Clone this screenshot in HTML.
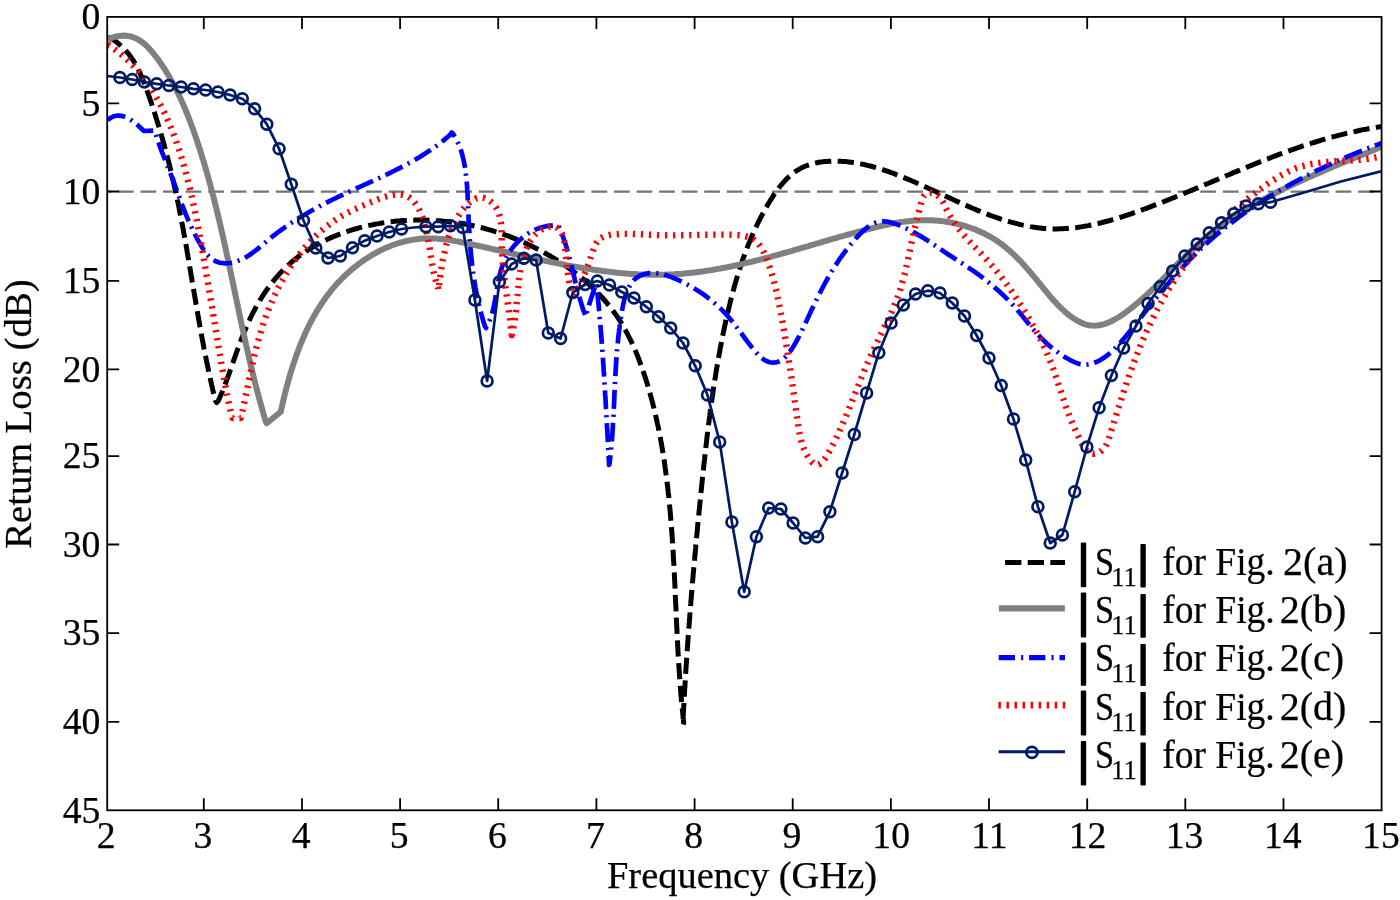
<!DOCTYPE html>
<html lang="en"><head><meta charset="utf-8"><title>Return Loss vs Frequency</title>
<style>html,body{margin:0;padding:0;background:#fff}body{width:1400px;height:900px;overflow:hidden}svg{display:block}text{font-family:"Liberation Serif", serif;fill:#000;stroke:#000;stroke-width:0.25px}</style></head><body>
<svg width="1400" height="900" viewBox="0 0 1400 900">
<rect width="1400" height="900" fill="#fff"/>
<defs><clipPath id="c"><rect x="107.2" y="16.9" width="1274.4" height="793.4"/></clipPath></defs>
<g clip-path="url(#c)" fill="none" stroke-linejoin="round">
<path d="M107.2 191.6 H1381.6" stroke="#747474" stroke-width="2.4" stroke-dasharray="15.8 6.75" stroke-dashoffset="11.85"/>
<path d="M107.5 38.0 L109.9 37.8 L111.7 38.9 L113.4 40.0 L115.1 41.1 L116.7 42.3 L118.3 43.5 L119.8 44.8 L121.3 46.1 L122.7 47.4 L124.1 48.8 L125.4 50.2 L126.7 51.7 L128.0 53.1 L129.2 54.7 L130.3 56.2 L131.4 57.8 L132.5 59.4 L133.6 61.0 L134.6 62.7 L135.6 64.4 L136.5 66.1 L137.4 67.8 L138.3 69.6 L139.2 71.3 L140.0 73.1 L140.8 74.9 L141.6 76.8 L142.4 78.6 L143.2 80.4 L143.9 82.3 L144.6 84.2 L145.4 86.0 L146.1 87.9 L146.7 89.8 L147.4 91.7 L148.1 93.6 L148.8 95.5 L149.4 97.4 L150.1 99.3 L150.7 101.2 L151.4 103.2 L152.0 105.1 L152.6 107.0 L153.3 108.9 L153.9 110.8 L154.5 112.7 L155.1 114.6 L155.7 116.6 L156.3 118.5 L156.9 120.4 L157.5 122.3 L158.1 124.2 L158.7 126.2 L159.3 128.1 L159.9 130.0 L160.4 132.0 L161.0 133.9 L161.6 135.8 L162.1 137.8 L162.7 139.7 L163.2 141.6 L163.8 143.6 L164.3 145.5 L164.8 147.4 L165.4 149.4 L165.9 151.3 L166.4 153.3 L166.9 155.2 L167.4 157.2 L167.9 159.1 L168.4 161.0 L168.9 163.0 L169.4 164.9 L169.9 166.9 L170.4 168.8 L170.8 170.8 L171.3 172.7 L171.8 174.7 L172.2 176.6 L172.7 178.6 L173.2 180.6 L173.6 182.5 L174.0 184.5 L174.5 186.4 L174.9 188.4 L175.4 190.3 L175.8 192.3 L176.2 194.2 L176.6 196.2 L177.0 198.2 L177.4 200.1 L177.9 202.1 L178.3 204.1 L178.7 206.0 L179.1 208.0 L179.4 209.9 L179.8 211.9 L180.2 213.9 L180.6 215.8 L181.0 217.8 L181.4 219.8 L181.7 221.7 L182.1 223.7 L182.5 225.7 L182.9 227.6 L183.2 229.6 L183.6 231.6 L183.9 233.5 L184.3 235.5 L184.7 237.5 L185.0 239.4 L185.4 241.4 L185.7 243.4 L186.1 245.4 L186.4 247.3 L186.8 249.3 L187.1 251.3 L187.4 253.2 L187.8 255.2 L188.1 257.2 L188.5 259.2 L188.8 261.1 L189.1 263.1 L189.5 265.1 L189.8 267.0 L190.1 269.0 L190.5 271.0 L190.8 273.0 L191.1 274.9 L191.5 276.9 L191.8 278.9 L192.1 280.9 L192.5 282.8 L192.8 284.8 L193.1 286.8 L193.5 288.7 L193.8 290.7 L194.1 292.7 L194.5 294.7 L194.8 296.6 L195.1 298.6 L195.5 300.6 L195.8 302.6 L196.1 304.5 L196.5 306.5 L196.8 308.5 L197.2 310.4 L197.5 312.4 L197.8 314.4 L198.2 316.4 L198.5 318.3 L198.9 320.3 L199.2 322.3 L199.6 324.2 L199.9 326.2 L200.3 328.2 L200.6 330.2 L201.0 332.1 L201.3 334.1 L201.7 336.1 L202.1 338.0 L202.4 340.0 L202.8 342.0 L203.2 343.9 L203.6 345.9 L203.9 347.9 L204.3 349.8 L204.7 351.8 L205.1 353.8 L205.5 355.7 L205.9 357.7 L206.3 359.7 L206.6 361.6 L207.1 363.6 L207.5 365.6 L207.9 367.5 L208.3 369.5 L208.7 371.4 L209.1 373.4 L209.5 375.4 L210.0 377.3 L210.4 379.3 L210.8 381.2 L211.3 383.2 L211.7 385.1 L212.2 387.1 L212.6 389.1 L213.1 391.0 L213.5 393.0 L214.0 394.9 L214.5 396.9 L215.0 398.8 L215.5 400.8 L216.7 402.5 L218.3 400.8 L219.1 399.0 L219.9 397.3 L220.7 395.5 L221.4 393.7 L222.2 391.9 L222.9 390.1 L223.6 388.3 L224.3 386.4 L225.1 384.6 L225.8 382.7 L226.4 380.9 L227.1 379.0 L227.8 377.2 L228.5 375.3 L229.2 373.4 L229.8 371.5 L230.5 369.6 L231.2 367.7 L231.8 365.8 L232.5 363.9 L233.2 362.0 L233.8 360.1 L234.5 358.2 L235.2 356.3 L235.8 354.4 L236.5 352.5 L237.2 350.6 L237.9 348.7 L238.6 346.8 L239.3 344.9 L240.0 343.0 L240.7 341.1 L241.4 339.2 L242.1 337.3 L242.9 335.4 L243.6 333.5 L244.4 331.6 L245.2 329.7 L246.0 327.9 L246.8 326.0 L247.6 324.2 L248.4 322.3 L249.3 320.5 L250.1 318.7 L251.0 316.8 L251.9 315.0 L252.8 313.2 L253.7 311.4 L254.7 309.7 L255.6 307.9 L256.6 306.1 L257.6 304.4 L258.6 302.7 L259.6 300.9 L260.6 299.2 L261.7 297.5 L262.7 295.9 L263.8 294.2 L264.9 292.5 L266.0 290.9 L267.2 289.3 L268.3 287.7 L269.5 286.1 L270.7 284.5 L271.9 282.9 L273.1 281.4 L274.3 279.8 L275.6 278.3 L276.9 276.8 L278.2 275.4 L279.5 273.9 L280.8 272.5 L282.2 271.1 L283.5 269.7 L284.9 268.3 L286.3 266.9 L287.7 265.6 L289.2 264.3 L290.6 263.0 L292.1 261.7 L293.6 260.4 L295.1 259.2 L296.7 258.0 L298.2 256.8 L299.8 255.6 L301.3 254.5 L302.9 253.3 L304.6 252.2 L306.2 251.1 L307.8 250.1 L309.5 249.0 L311.2 248.0 L312.9 247.0 L314.6 246.0 L316.3 245.0 L318.0 244.0 L319.7 243.1 L321.5 242.2 L323.3 241.3 L325.1 240.4 L326.9 239.6 L328.7 238.7 L330.5 237.9 L332.3 237.1 L334.1 236.3 L336.0 235.6 L337.9 234.8 L339.7 234.1 L341.6 233.4 L343.5 232.7 L345.4 232.1 L347.3 231.4 L349.2 230.8 L351.1 230.2 L353.1 229.6 L355.0 229.0 L357.0 228.5 L358.9 227.9 L360.9 227.4 L362.8 226.9 L364.8 226.4 L366.8 226.0 L368.8 225.5 L370.8 225.1 L372.8 224.7 L374.8 224.3 L376.8 223.9 L378.8 223.6 L380.8 223.2 L382.8 222.9 L384.9 222.6 L386.9 222.3 L388.9 222.0 L390.9 221.8 L393.0 221.6 L395.0 221.3 L397.1 221.1 L399.1 221.0 L401.1 220.8 L403.2 220.6 L405.2 220.5 L407.3 220.4 L409.3 220.3 L411.3 220.2 L413.4 220.2 L415.4 220.1 L417.5 220.1 L419.5 220.1 L421.5 220.1 L423.6 220.1 L425.6 220.1 L427.6 220.2 L429.6 220.2 L431.7 220.3 L433.7 220.4 L435.7 220.5 L437.7 220.7 L439.7 220.8 L441.7 221.0 L443.7 221.2 L445.7 221.4 L447.7 221.6 L449.7 221.8 L451.7 222.0 L453.7 222.3 L455.6 222.6 L457.6 222.9 L459.6 223.2 L461.5 223.5 L463.5 223.8 L465.5 224.2 L467.4 224.6 L469.4 224.9 L471.3 225.3 L473.2 225.7 L475.2 226.2 L477.1 226.6 L479.0 227.1 L481.0 227.5 L482.9 228.0 L484.8 228.5 L486.7 229.1 L488.6 229.6 L490.5 230.1 L492.4 230.7 L494.3 231.3 L496.2 231.9 L498.1 232.5 L500.0 233.1 L501.8 233.7 L503.7 234.4 L505.6 235.1 L507.4 235.7 L509.3 236.4 L511.1 237.1 L513.0 237.9 L514.8 238.6 L516.7 239.4 L518.5 240.1 L520.3 240.9 L522.1 241.7 L524.0 242.5 L525.8 243.3 L527.6 244.2 L529.4 245.0 L531.2 245.9 L533.0 246.8 L534.8 247.7 L536.6 248.6 L538.4 249.5 L540.1 250.4 L541.9 251.4 L543.7 252.3 L545.4 253.3 L547.2 254.3 L548.9 255.3 L550.7 256.3 L552.4 257.3 L554.1 258.4 L555.8 259.4 L557.5 260.5 L559.2 261.6 L560.9 262.7 L562.6 263.8 L564.3 264.9 L565.9 266.1 L567.6 267.2 L569.2 268.4 L570.9 269.6 L572.5 270.8 L574.1 272.0 L575.7 273.2 L577.3 274.4 L578.8 275.7 L580.4 276.9 L582.0 278.2 L583.5 279.5 L585.0 280.8 L586.5 282.1 L588.0 283.5 L589.5 284.8 L591.0 286.2 L592.4 287.6 L593.9 288.9 L595.3 290.3 L596.7 291.8 L598.1 293.2 L599.5 294.6 L600.8 296.1 L602.2 297.5 L603.5 299.0 L604.8 300.5 L606.1 302.0 L607.4 303.6 L608.6 305.1 L609.9 306.6 L611.1 308.2 L612.3 309.8 L613.5 311.4 L614.6 313.0 L615.8 314.6 L616.9 316.2 L618.0 317.9 L619.1 319.5 L620.1 321.2 L621.2 322.9 L622.2 324.6 L623.2 326.3 L624.2 328.0 L625.2 329.7 L626.1 331.5 L627.1 333.2 L628.0 335.0 L628.9 336.8 L629.8 338.5 L630.7 340.3 L631.5 342.1 L632.4 343.9 L633.2 345.7 L634.0 347.6 L634.8 349.4 L635.6 351.2 L636.4 353.1 L637.1 354.9 L637.9 356.8 L638.6 358.7 L639.3 360.5 L640.0 362.4 L640.7 364.3 L641.4 366.2 L642.1 368.1 L642.8 370.0 L643.4 371.9 L644.0 373.8 L644.7 375.7 L645.3 377.6 L645.9 379.5 L646.5 381.4 L647.1 383.3 L647.7 385.3 L648.2 387.2 L648.8 389.1 L649.3 391.0 L649.9 393.0 L650.4 394.9 L651.0 396.8 L651.5 398.8 L652.0 400.7 L652.5 402.6 L653.0 404.6 L653.5 406.5 L654.0 408.5 L654.4 410.4 L654.9 412.4 L655.4 414.3 L655.8 416.2 L656.3 418.2 L656.7 420.1 L657.1 422.1 L657.5 424.0 L658.0 426.0 L658.4 428.0 L658.8 429.9 L659.1 431.9 L659.5 433.8 L659.9 435.8 L660.3 437.8 L660.7 439.7 L661.0 441.7 L661.4 443.6 L661.7 445.6 L662.1 447.6 L662.4 449.6 L662.7 451.5 L663.0 453.5 L663.4 455.5 L663.7 457.4 L664.0 459.4 L664.3 461.4 L664.6 463.4 L664.9 465.3 L665.1 467.3 L665.4 469.3 L665.7 471.3 L665.9 473.3 L666.2 475.2 L666.5 477.2 L666.7 479.2 L667.0 481.2 L667.2 483.2 L667.4 485.2 L667.7 487.2 L667.9 489.1 L668.1 491.1 L668.3 493.1 L668.6 495.1 L668.8 497.1 L669.0 499.1 L669.2 501.1 L669.4 503.1 L669.6 505.1 L669.7 507.1 L669.9 509.1 L670.1 511.1 L670.3 513.1 L670.5 515.1 L670.6 517.1 L670.8 519.1 L671.0 521.1 L671.1 523.1 L671.3 525.1 L671.4 527.1 L671.6 529.1 L671.7 531.1 L671.9 533.1 L672.0 535.1 L672.2 537.1 L672.3 539.1 L672.4 541.1 L672.6 543.1 L672.7 545.1 L672.8 547.1 L672.9 549.1 L673.1 551.1 L673.2 553.1 L673.3 555.1 L673.4 557.1 L673.5 559.1 L673.6 561.1 L673.8 563.1 L673.9 565.1 L674.0 567.1 L674.1 569.1 L674.2 571.2 L674.3 573.2 L674.4 575.2 L674.5 577.2 L674.6 579.2 L674.7 581.2 L674.8 583.2 L674.9 585.2 L675.0 587.2 L675.1 589.2 L675.2 591.2 L675.2 593.2 L675.3 595.2 L675.4 597.2 L675.5 599.3 L675.6 601.3 L675.7 603.3 L675.8 605.3 L675.9 607.3 L676.0 609.3 L676.1 611.3 L676.2 613.3 L676.2 615.3 L676.3 617.3 L676.4 619.3 L676.5 621.3 L676.6 623.3 L676.7 625.3 L676.8 627.3 L676.9 629.3 L677.0 631.3 L677.1 633.3 L677.2 635.3 L677.3 637.3 L677.4 639.4 L677.5 641.4 L677.6 643.4 L677.7 645.4 L677.8 647.4 L677.9 649.4 L678.0 651.3 L678.1 653.3 L678.2 655.3 L678.4 657.3 L678.5 659.3 L678.6 661.3 L678.7 663.3 L678.8 665.3 L679.0 667.3 L679.1 669.3 L679.2 671.3 L679.4 673.3 L679.5 675.3 L679.6 677.3 L679.8 679.3 L679.9 681.2 L680.1 683.2 L680.2 685.2 L680.4 687.2 L680.5 689.2 L680.7 691.2 L680.8 693.2 L681.0 695.1 L681.2 697.1 L681.3 699.1 L681.5 701.1 L681.7 703.1 L681.9 705.0 L682.1 707.0 L682.3 709.0 L682.5 711.0 L682.7 712.9 L682.9 714.9 L683.1 716.9 L683.3 718.9 L683.5 720.8 L683.7 722.8 L683.0 725.0 L682.9 723.0 L683.0 721.0 L683.1 719.0 L683.2 717.0 L683.3 715.0 L683.4 713.0 L683.5 711.0 L683.6 709.0 L683.7 707.0 L683.9 705.0 L684.0 703.0 L684.1 701.0 L684.2 699.0 L684.3 697.0 L684.4 695.0 L684.5 693.0 L684.6 691.0 L684.7 689.0 L684.9 687.0 L685.0 685.0 L685.1 683.0 L685.2 681.0 L685.3 679.0 L685.5 677.1 L685.6 675.1 L685.7 673.1 L685.8 671.1 L686.0 669.1 L686.1 667.1 L686.2 665.1 L686.4 663.1 L686.5 661.1 L686.6 659.1 L686.8 657.1 L686.9 655.1 L687.0 653.1 L687.2 651.1 L687.3 649.1 L687.5 647.1 L687.6 645.1 L687.7 643.1 L687.9 641.1 L688.0 639.1 L688.2 637.1 L688.3 635.1 L688.5 633.1 L688.6 631.2 L688.8 629.2 L688.9 627.2 L689.1 625.2 L689.2 623.2 L689.4 621.2 L689.5 619.2 L689.7 617.2 L689.8 615.2 L690.0 613.2 L690.1 611.2 L690.3 609.2 L690.5 607.2 L690.6 605.2 L690.8 603.2 L690.9 601.2 L691.1 599.2 L691.3 597.3 L691.4 595.3 L691.6 593.3 L691.8 591.3 L691.9 589.3 L692.1 587.3 L692.3 585.3 L692.4 583.3 L692.6 581.3 L692.8 579.3 L693.0 577.3 L693.1 575.3 L693.3 573.3 L693.5 571.3 L693.7 569.3 L693.8 567.4 L694.0 565.4 L694.2 563.4 L694.4 561.4 L694.6 559.4 L694.7 557.4 L694.9 555.4 L695.1 553.4 L695.3 551.4 L695.5 549.4 L695.7 547.4 L695.8 545.4 L696.0 543.4 L696.2 541.4 L696.4 539.5 L696.6 537.5 L696.8 535.5 L697.0 533.5 L697.2 531.5 L697.4 529.5 L697.5 527.5 L697.7 525.5 L697.9 523.5 L698.1 521.5 L698.3 519.5 L698.5 517.5 L698.7 515.6 L698.9 513.6 L699.1 511.6 L699.3 509.6 L699.5 507.6 L699.7 505.6 L699.9 503.6 L700.1 501.6 L700.3 499.6 L700.5 497.6 L700.7 495.6 L700.9 493.6 L701.1 491.7 L701.3 489.7 L701.5 487.7 L701.7 485.7 L701.9 483.7 L702.1 481.7 L702.3 479.7 L702.5 477.7 L702.8 475.7 L703.0 473.7 L703.2 471.7 L703.4 469.7 L703.6 467.8 L703.8 465.8 L704.0 463.8 L704.2 461.8 L704.5 459.8 L704.7 457.8 L704.9 455.8 L705.1 453.8 L705.3 451.8 L705.6 449.9 L705.8 447.9 L706.0 445.9 L706.3 443.9 L706.5 441.9 L706.7 439.9 L706.9 437.9 L707.2 435.9 L707.4 434.0 L707.7 432.0 L707.9 430.0 L708.1 428.0 L708.4 426.0 L708.6 424.0 L708.9 422.0 L709.1 420.1 L709.4 418.1 L709.7 416.1 L709.9 414.1 L710.2 412.1 L710.4 410.1 L710.7 408.2 L711.0 406.2 L711.3 404.2 L711.5 402.2 L711.8 400.2 L712.1 398.3 L712.4 396.3 L712.7 394.3 L712.9 392.3 L713.2 390.4 L713.5 388.4 L713.8 386.4 L714.1 384.4 L714.4 382.5 L714.7 380.5 L715.1 378.5 L715.4 376.5 L715.7 374.6 L716.0 372.6 L716.3 370.6 L716.7 368.6 L717.0 366.7 L717.3 364.7 L717.7 362.7 L718.0 360.8 L718.3 358.8 L718.7 356.8 L719.1 354.9 L719.4 352.9 L719.8 351.0 L720.1 349.0 L720.5 347.0 L720.9 345.1 L721.3 343.1 L721.6 341.2 L722.0 339.2 L722.4 337.2 L722.8 335.3 L723.2 333.3 L723.6 331.4 L724.0 329.4 L724.4 327.5 L724.8 325.5 L725.3 323.6 L725.7 321.6 L726.1 319.7 L726.6 317.7 L727.0 315.8 L727.5 313.8 L727.9 311.9 L728.4 309.9 L728.8 308.0 L729.3 306.0 L729.8 304.1 L730.2 302.2 L730.7 300.2 L731.2 298.3 L731.7 296.4 L732.2 294.4 L732.7 292.5 L733.2 290.6 L733.8 288.6 L734.3 286.7 L734.8 284.8 L735.4 282.9 L736.0 280.9 L736.5 279.0 L737.1 277.1 L737.7 275.2 L738.3 273.3 L738.9 271.4 L739.5 269.5 L740.1 267.6 L740.7 265.7 L741.3 263.8 L742.0 261.9 L742.6 260.0 L743.3 258.1 L744.0 256.2 L744.7 254.3 L745.4 252.4 L746.1 250.6 L746.8 248.7 L747.5 246.8 L748.2 245.0 L749.0 243.1 L749.8 241.2 L750.5 239.4 L751.3 237.5 L752.1 235.7 L752.9 233.8 L753.7 232.0 L754.6 230.1 L755.4 228.3 L756.3 226.5 L757.2 224.6 L758.0 222.8 L758.9 221.0 L759.9 219.2 L760.8 217.4 L761.7 215.6 L762.7 213.8 L763.7 212.0 L764.6 210.2 L765.6 208.4 L766.7 206.6 L767.7 204.8 L768.7 203.0 L769.8 201.3 L770.9 199.5 L772.0 197.8 L773.1 196.0 L774.2 194.3 L775.4 192.7 L776.5 191.0 L777.7 189.3 L779.0 187.7 L780.2 186.2 L781.5 184.6 L782.8 183.1 L784.1 181.6 L785.5 180.2 L786.8 178.8 L788.2 177.4 L789.7 176.1 L791.1 174.8 L792.6 173.6 L794.2 172.5 L795.7 171.4 L797.3 170.3 L799.0 169.3 L800.6 168.4 L802.3 167.5 L804.0 166.7 L805.8 166.0 L807.6 165.3 L809.4 164.7 L811.3 164.1 L813.2 163.6 L815.1 163.1 L817.0 162.7 L818.9 162.3 L820.9 162.0 L822.8 161.8 L824.8 161.5 L826.8 161.4 L828.8 161.2 L830.8 161.2 L832.9 161.1 L834.9 161.1 L836.9 161.1 L838.9 161.2 L841.0 161.3 L843.0 161.4 L845.0 161.6 L847.0 161.8 L849.0 162.0 L851.0 162.2 L853.0 162.5 L855.0 162.8 L856.9 163.1 L858.9 163.5 L860.8 163.9 L862.8 164.2 L864.7 164.7 L866.6 165.1 L868.5 165.6 L870.4 166.0 L872.3 166.5 L874.2 167.1 L876.1 167.6 L878.0 168.2 L879.9 168.7 L881.7 169.3 L883.6 170.0 L885.5 170.6 L887.3 171.2 L889.2 171.9 L891.1 172.6 L892.9 173.2 L894.8 173.9 L896.6 174.7 L898.5 175.4 L900.3 176.1 L902.2 176.9 L904.0 177.6 L905.9 178.4 L907.8 179.2 L909.6 179.9 L911.5 180.7 L913.3 181.5 L915.2 182.3 L917.1 183.2 L918.9 184.0 L920.8 184.8 L922.6 185.6 L924.5 186.5 L926.4 187.3 L928.2 188.2 L930.1 189.0 L932.0 189.9 L933.8 190.7 L935.7 191.6 L937.6 192.5 L939.4 193.3 L941.3 194.2 L943.2 195.0 L945.1 195.9 L946.9 196.8 L948.8 197.6 L950.7 198.5 L952.5 199.3 L954.4 200.2 L956.3 201.1 L958.2 201.9 L960.1 202.7 L961.9 203.6 L963.8 204.4 L965.7 205.2 L967.6 206.1 L969.5 206.9 L971.3 207.7 L973.2 208.5 L975.1 209.3 L977.0 210.1 L978.9 210.8 L980.8 211.6 L982.7 212.4 L984.6 213.1 L986.5 213.8 L988.3 214.6 L990.2 215.3 L992.1 216.0 L994.0 216.7 L995.9 217.3 L997.8 218.0 L999.7 218.6 L1001.6 219.3 L1003.5 219.9 L1005.4 220.5 L1007.3 221.1 L1009.2 221.6 L1011.2 222.2 L1013.1 222.7 L1015.0 223.2 L1016.9 223.7 L1018.8 224.2 L1020.7 224.6 L1022.6 225.1 L1024.5 225.5 L1026.5 225.9 L1028.4 226.2 L1030.3 226.6 L1032.2 226.9 L1034.1 227.2 L1036.1 227.5 L1038.0 227.8 L1039.9 228.0 L1041.8 228.2 L1043.8 228.4 L1045.7 228.5 L1047.6 228.6 L1049.6 228.7 L1051.5 228.8 L1053.5 228.9 L1055.4 228.9 L1057.3 228.9 L1059.3 228.8 L1061.2 228.8 L1063.2 228.7 L1065.1 228.6 L1067.0 228.5 L1069.0 228.3 L1070.9 228.1 L1072.9 227.9 L1074.8 227.7 L1076.8 227.5 L1078.7 227.2 L1080.7 226.9 L1082.6 226.6 L1084.6 226.3 L1086.5 225.9 L1088.5 225.6 L1090.4 225.2 L1092.4 224.8 L1094.3 224.4 L1096.3 223.9 L1098.2 223.5 L1100.2 223.0 L1102.1 222.5 L1104.0 222.0 L1106.0 221.5 L1107.9 221.0 L1109.9 220.5 L1111.8 219.9 L1113.8 219.3 L1115.7 218.8 L1117.6 218.2 L1119.6 217.6 L1121.5 217.0 L1123.4 216.3 L1125.3 215.7 L1127.3 215.1 L1129.2 214.4 L1131.1 213.8 L1133.0 213.1 L1135.0 212.4 L1136.9 211.8 L1138.8 211.1 L1140.7 210.4 L1142.6 209.7 L1144.5 209.0 L1146.4 208.3 L1148.3 207.6 L1150.2 206.9 L1152.1 206.1 L1154.0 205.4 L1155.9 204.7 L1157.8 204.0 L1159.6 203.2 L1161.5 202.5 L1163.4 201.8 L1165.3 201.0 L1167.2 200.3 L1169.0 199.5 L1170.9 198.8 L1172.8 198.0 L1174.6 197.3 L1176.5 196.5 L1178.3 195.8 L1180.2 195.0 L1182.1 194.3 L1183.9 193.5 L1185.8 192.7 L1187.6 192.0 L1189.5 191.2 L1191.3 190.4 L1193.2 189.7 L1195.0 188.9 L1196.9 188.1 L1198.7 187.3 L1200.6 186.6 L1202.4 185.8 L1204.2 185.0 L1206.1 184.2 L1207.9 183.5 L1209.8 182.7 L1211.6 181.9 L1213.4 181.1 L1215.3 180.4 L1217.1 179.6 L1218.9 178.8 L1220.8 178.0 L1222.6 177.3 L1224.4 176.5 L1226.3 175.7 L1228.1 175.0 L1230.0 174.2 L1231.8 173.4 L1233.6 172.6 L1235.5 171.9 L1237.3 171.1 L1239.1 170.4 L1241.0 169.6 L1242.8 168.8 L1244.6 168.1 L1246.5 167.3 L1248.3 166.6 L1250.2 165.8 L1252.0 165.1 L1253.8 164.3 L1255.7 163.6 L1257.5 162.8 L1259.4 162.1 L1261.2 161.4 L1263.1 160.6 L1264.9 159.9 L1266.7 159.2 L1268.6 158.5 L1270.4 157.8 L1272.3 157.0 L1274.2 156.3 L1276.0 155.6 L1277.9 154.9 L1279.7 154.2 L1281.6 153.5 L1283.4 152.9 L1285.3 152.2 L1287.2 151.5 L1289.0 150.8 L1290.9 150.1 L1292.8 149.5 L1294.7 148.8 L1296.5 148.2 L1298.4 147.5 L1300.3 146.9 L1302.2 146.2 L1304.1 145.6 L1306.0 145.0 L1307.9 144.4 L1309.8 143.8 L1311.7 143.2 L1313.6 142.6 L1315.5 142.0 L1317.4 141.4 L1319.3 140.8 L1321.2 140.2 L1323.1 139.6 L1325.0 139.1 L1327.0 138.5 L1328.9 138.0 L1330.8 137.4 L1332.7 136.9 L1334.7 136.4 L1336.6 135.9 L1338.6 135.4 L1340.5 134.9 L1342.5 134.4 L1344.4 133.9 L1346.4 133.4 L1348.4 133.0 L1350.3 132.5 L1352.3 132.0 L1354.3 131.6 L1356.3 131.2 L1358.2 130.8 L1360.2 130.3 L1362.2 129.9 L1364.2 129.5 L1366.2 129.2 L1368.2 128.8 L1370.3 128.4 L1372.3 128.1 L1374.3 127.7 L1376.3 127.4 L1378.4 127.0 L1380.4 126.7 L1382.0 126.0" stroke="#000" stroke-width="5" stroke-dasharray="16.3 6.4"/>
<path d="M107.5 40.0 L109.0 39.1 L111.2 38.1 L113.4 37.3 L115.6 36.7 L117.7 36.2 L119.8 35.9 L121.8 35.7 L123.8 35.6 L125.8 35.7 L127.7 35.9 L129.6 36.2 L131.4 36.7 L133.2 37.3 L134.9 38.0 L136.6 38.7 L138.3 39.6 L139.9 40.6 L141.4 41.6 L143.0 42.8 L144.4 44.0 L145.9 45.3 L147.3 46.6 L148.7 48.0 L150.0 49.5 L151.3 50.9 L152.6 52.5 L153.9 54.0 L155.1 55.6 L156.4 57.2 L157.6 58.9 L158.8 60.5 L159.9 62.1 L161.1 63.8 L162.2 65.5 L163.3 67.1 L164.4 68.8 L165.5 70.5 L166.5 72.2 L167.6 73.9 L168.6 75.7 L169.6 77.4 L170.6 79.1 L171.6 80.9 L172.6 82.6 L173.5 84.4 L174.5 86.2 L175.4 87.9 L176.3 89.7 L177.2 91.5 L178.1 93.3 L178.9 95.1 L179.8 96.9 L180.6 98.7 L181.5 100.6 L182.3 102.4 L183.1 104.2 L183.9 106.1 L184.7 107.9 L185.5 109.7 L186.2 111.6 L187.0 113.5 L187.7 115.3 L188.5 117.2 L189.2 119.1 L189.9 120.9 L190.6 122.8 L191.3 124.7 L192.0 126.6 L192.7 128.4 L193.4 130.3 L194.0 132.2 L194.7 134.1 L195.4 136.0 L196.0 137.9 L196.7 139.8 L197.3 141.7 L197.9 143.6 L198.6 145.5 L199.2 147.4 L199.8 149.3 L200.4 151.2 L201.0 153.1 L201.6 155.1 L202.2 157.0 L202.8 158.9 L203.4 160.8 L203.9 162.7 L204.5 164.6 L205.1 166.5 L205.6 168.5 L206.2 170.4 L206.8 172.3 L207.3 174.2 L207.8 176.2 L208.4 178.1 L208.9 180.0 L209.4 181.9 L210.0 183.9 L210.5 185.8 L211.0 187.7 L211.5 189.7 L212.0 191.6 L212.5 193.5 L213.1 195.5 L213.6 197.4 L214.0 199.3 L214.5 201.3 L215.0 203.2 L215.5 205.2 L216.0 207.1 L216.5 209.0 L216.9 211.0 L217.4 212.9 L217.9 214.9 L218.4 216.8 L218.8 218.8 L219.3 220.7 L219.7 222.6 L220.2 224.6 L220.6 226.5 L221.1 228.5 L221.5 230.4 L222.0 232.4 L222.4 234.3 L222.9 236.3 L223.3 238.2 L223.7 240.2 L224.2 242.1 L224.6 244.1 L225.0 246.1 L225.5 248.0 L225.9 250.0 L226.3 251.9 L226.7 253.9 L227.2 255.8 L227.6 257.8 L228.0 259.7 L228.4 261.7 L228.8 263.7 L229.3 265.6 L229.7 267.6 L230.1 269.5 L230.5 271.5 L230.9 273.4 L231.3 275.4 L231.7 277.4 L232.2 279.3 L232.6 281.3 L233.0 283.2 L233.4 285.2 L233.8 287.2 L234.2 289.1 L234.6 291.1 L235.0 293.0 L235.4 295.0 L235.8 297.0 L236.2 298.9 L236.7 300.9 L237.1 302.8 L237.5 304.8 L237.9 306.8 L238.3 308.7 L238.7 310.7 L239.1 312.6 L239.5 314.6 L240.0 316.6 L240.4 318.5 L240.8 320.5 L241.2 322.4 L241.6 324.4 L242.0 326.3 L242.5 328.3 L242.9 330.3 L243.3 332.2 L243.7 334.2 L244.2 336.1 L244.6 338.1 L245.0 340.0 L245.5 342.0 L245.9 343.9 L246.3 345.9 L246.8 347.8 L247.2 349.8 L247.7 351.7 L248.1 353.7 L248.6 355.6 L249.0 357.6 L249.5 359.5 L249.9 361.5 L250.4 363.4 L250.8 365.4 L251.3 367.3 L251.8 369.3 L252.2 371.2 L252.7 373.2 L253.2 375.1 L253.7 377.1 L254.1 379.0 L254.6 380.9 L255.1 382.9 L255.6 384.8 L256.1 386.8 L256.6 388.7 L257.1 390.6 L257.6 392.6 L258.1 394.5 L258.7 396.4 L259.2 398.4 L259.7 400.3 L260.2 402.2 L260.8 404.2 L261.3 406.1 L261.8 408.0 L262.4 409.9 L262.9 411.9 L263.5 413.8 L264.0 415.7 L264.6 417.6 L265.2 419.6 L265.8 421.5 L266.7 423.3 L280.8 411.7 L281.2 409.7 L281.6 407.8 L282.1 405.9 L282.5 403.9 L283.0 402.0 L283.4 400.1 L283.9 398.1 L284.4 396.2 L284.8 394.3 L285.3 392.3 L285.8 390.4 L286.3 388.5 L286.8 386.5 L287.3 384.6 L287.9 382.7 L288.4 380.7 L288.9 378.8 L289.5 376.9 L290.0 374.9 L290.6 373.0 L291.2 371.1 L291.8 369.2 L292.4 367.3 L293.0 365.3 L293.6 363.4 L294.3 361.5 L294.9 359.6 L295.6 357.7 L296.2 355.8 L296.9 353.9 L297.6 352.0 L298.3 350.2 L299.0 348.3 L299.7 346.4 L300.5 344.5 L301.2 342.7 L302.0 340.8 L302.8 339.0 L303.6 337.1 L304.4 335.3 L305.2 333.5 L306.0 331.7 L306.9 329.9 L307.7 328.1 L308.6 326.3 L309.5 324.5 L310.4 322.7 L311.3 320.9 L312.3 319.2 L313.2 317.4 L314.2 315.7 L315.2 314.0 L316.2 312.3 L317.2 310.5 L318.3 308.9 L319.3 307.2 L320.4 305.5 L321.5 303.8 L322.6 302.2 L323.7 300.5 L324.9 298.9 L326.0 297.3 L327.2 295.7 L328.4 294.1 L329.6 292.6 L330.8 291.0 L332.1 289.4 L333.4 287.9 L334.7 286.4 L336.0 284.9 L337.3 283.4 L338.7 281.9 L340.1 280.5 L341.5 279.0 L342.9 277.6 L344.3 276.2 L345.8 274.8 L347.3 273.4 L348.8 272.1 L350.3 270.7 L351.8 269.4 L353.4 268.1 L355.0 266.8 L356.6 265.6 L358.2 264.3 L359.8 263.1 L361.5 261.9 L363.2 260.7 L364.8 259.6 L366.5 258.5 L368.3 257.4 L370.0 256.3 L371.7 255.2 L373.5 254.2 L375.3 253.2 L377.0 252.2 L378.8 251.3 L380.6 250.4 L382.5 249.5 L384.3 248.6 L386.1 247.8 L388.0 247.0 L389.8 246.2 L391.7 245.5 L393.6 244.8 L395.5 244.1 L397.4 243.5 L399.2 242.9 L401.2 242.3 L403.1 241.8 L405.0 241.3 L406.9 240.9 L408.8 240.5 L410.7 240.1 L412.7 239.7 L414.6 239.4 L416.5 239.2 L418.5 238.9 L420.4 238.7 L422.4 238.6 L424.3 238.5 L426.2 238.4 L428.2 238.4 L430.1 238.4 L432.1 238.5 L434.0 238.5 L436.0 238.6 L437.9 238.8 L439.9 238.9 L441.8 239.1 L443.8 239.3 L445.7 239.6 L447.7 239.8 L449.6 240.1 L451.6 240.4 L453.5 240.7 L455.5 241.1 L457.4 241.4 L459.4 241.8 L461.3 242.2 L463.3 242.6 L465.3 243.0 L467.2 243.4 L469.2 243.8 L471.1 244.2 L473.1 244.7 L475.1 245.1 L477.0 245.5 L479.0 246.0 L480.9 246.4 L482.9 246.8 L484.9 247.3 L486.8 247.7 L488.8 248.2 L490.8 248.6 L492.7 249.1 L494.7 249.5 L496.7 250.0 L498.6 250.4 L500.6 250.9 L502.6 251.3 L504.6 251.8 L506.5 252.2 L508.5 252.7 L510.5 253.1 L512.4 253.6 L514.4 254.0 L516.4 254.5 L518.4 254.9 L520.3 255.4 L522.3 255.8 L524.3 256.3 L526.3 256.7 L528.2 257.1 L530.2 257.6 L532.2 258.0 L534.2 258.5 L536.1 258.9 L538.1 259.3 L540.1 259.7 L542.1 260.2 L544.0 260.6 L546.0 261.0 L548.0 261.4 L550.0 261.8 L552.0 262.2 L553.9 262.6 L555.9 263.0 L557.9 263.4 L559.9 263.8 L561.9 264.2 L563.8 264.6 L565.8 265.0 L567.8 265.4 L569.8 265.7 L571.8 266.1 L573.7 266.4 L575.7 266.8 L577.7 267.1 L579.7 267.5 L581.7 267.8 L583.6 268.2 L585.6 268.5 L587.6 268.8 L589.6 269.1 L591.6 269.4 L593.5 269.7 L595.5 270.0 L597.5 270.3 L599.5 270.6 L601.5 270.8 L603.4 271.1 L605.4 271.3 L607.4 271.6 L609.4 271.8 L611.4 272.1 L613.3 272.3 L615.3 272.5 L617.3 272.7 L619.3 272.9 L621.3 273.1 L623.2 273.3 L625.2 273.4 L627.2 273.6 L629.2 273.8 L631.2 273.9 L633.1 274.0 L635.1 274.1 L637.1 274.3 L639.1 274.4 L641.1 274.4 L643.0 274.5 L645.0 274.6 L647.0 274.7 L649.0 274.7 L650.9 274.7 L652.9 274.8 L654.9 274.8 L656.9 274.8 L658.8 274.8 L660.8 274.8 L662.8 274.7 L664.8 274.7 L666.7 274.6 L668.7 274.5 L670.7 274.5 L672.6 274.4 L674.6 274.3 L676.6 274.1 L678.6 274.0 L680.5 273.9 L682.5 273.7 L684.5 273.5 L686.4 273.3 L688.4 273.1 L690.4 272.9 L692.3 272.7 L694.3 272.5 L696.3 272.3 L698.2 272.0 L700.2 271.7 L702.2 271.5 L704.1 271.2 L706.1 270.9 L708.1 270.6 L710.0 270.3 L712.0 270.0 L714.0 269.6 L715.9 269.3 L717.9 268.9 L719.8 268.6 L721.8 268.2 L723.8 267.8 L725.7 267.5 L727.7 267.1 L729.6 266.7 L731.6 266.3 L733.5 265.8 L735.5 265.4 L737.5 265.0 L739.4 264.6 L741.4 264.1 L743.3 263.7 L745.3 263.2 L747.2 262.7 L749.2 262.3 L751.1 261.8 L753.1 261.3 L755.1 260.8 L757.0 260.3 L759.0 259.9 L760.9 259.3 L762.9 258.8 L764.8 258.3 L766.8 257.8 L768.7 257.3 L770.7 256.8 L772.6 256.2 L774.6 255.7 L776.5 255.2 L778.5 254.6 L780.4 254.1 L782.3 253.5 L784.3 253.0 L786.2 252.5 L788.2 251.9 L790.1 251.3 L792.1 250.8 L794.0 250.2 L796.0 249.7 L797.9 249.1 L799.9 248.5 L801.8 248.0 L803.7 247.4 L805.7 246.8 L807.6 246.3 L809.6 245.7 L811.5 245.1 L813.4 244.6 L815.4 244.0 L817.3 243.4 L819.3 242.9 L821.2 242.3 L823.1 241.7 L825.1 241.1 L827.0 240.6 L828.9 240.0 L830.9 239.5 L832.8 238.9 L834.7 238.3 L836.7 237.8 L838.6 237.2 L840.5 236.7 L842.5 236.1 L844.4 235.6 L846.3 235.0 L848.3 234.5 L850.2 234.0 L852.1 233.4 L854.1 232.9 L856.0 232.4 L857.9 231.8 L859.9 231.3 L861.8 230.8 L863.7 230.3 L865.6 229.8 L867.6 229.3 L869.5 228.8 L871.4 228.3 L873.4 227.8 L875.3 227.3 L877.2 226.9 L879.1 226.4 L881.1 226.0 L883.0 225.5 L884.9 225.1 L886.9 224.7 L888.8 224.3 L890.7 223.9 L892.7 223.5 L894.6 223.2 L896.5 222.8 L898.5 222.5 L900.4 222.2 L902.4 221.9 L904.3 221.6 L906.2 221.4 L908.2 221.2 L910.1 221.0 L912.1 220.8 L914.1 220.6 L916.0 220.5 L918.0 220.4 L920.0 220.3 L921.9 220.2 L923.9 220.2 L925.9 220.2 L927.9 220.2 L929.9 220.2 L931.9 220.3 L933.9 220.4 L935.9 220.5 L937.9 220.7 L939.9 220.9 L941.9 221.1 L943.9 221.4 L945.9 221.7 L947.9 222.0 L949.9 222.4 L951.9 222.7 L953.9 223.2 L955.9 223.6 L957.9 224.1 L959.9 224.6 L961.9 225.1 L963.8 225.7 L965.8 226.2 L967.7 226.9 L969.7 227.5 L971.6 228.2 L973.5 228.9 L975.4 229.6 L977.2 230.4 L979.1 231.2 L980.9 232.0 L982.8 232.8 L984.6 233.7 L986.3 234.6 L988.1 235.6 L989.8 236.5 L991.5 237.5 L993.2 238.5 L994.9 239.6 L996.5 240.6 L998.2 241.7 L999.8 242.9 L1001.3 244.0 L1002.9 245.2 L1004.4 246.4 L1005.9 247.6 L1007.4 248.9 L1008.9 250.1 L1010.4 251.4 L1011.8 252.7 L1013.3 254.1 L1014.7 255.4 L1016.1 256.8 L1017.5 258.2 L1018.8 259.6 L1020.2 261.0 L1021.6 262.4 L1022.9 263.9 L1024.3 265.4 L1025.6 266.9 L1026.9 268.4 L1028.2 269.9 L1029.6 271.4 L1030.9 272.9 L1032.2 274.5 L1033.5 276.1 L1034.8 277.6 L1036.1 279.2 L1037.4 280.8 L1038.7 282.4 L1040.0 284.0 L1041.3 285.6 L1042.6 287.2 L1043.9 288.9 L1045.3 290.5 L1046.6 292.1 L1047.9 293.7 L1049.3 295.3 L1050.6 296.9 L1052.0 298.5 L1053.4 300.1 L1054.8 301.6 L1056.2 303.1 L1057.6 304.6 L1059.1 306.1 L1060.5 307.6 L1062.0 309.0 L1063.5 310.4 L1065.0 311.8 L1066.6 313.1 L1068.1 314.4 L1069.7 315.6 L1071.4 316.8 L1073.0 318.0 L1074.7 319.1 L1076.4 320.1 L1078.1 321.1 L1079.9 322.0 L1081.6 322.9 L1083.4 323.6 L1085.2 324.3 L1087.0 324.8 L1088.8 325.2 L1090.6 325.4 L1092.4 325.6 L1094.2 325.7 L1096.0 325.6 L1097.8 325.4 L1099.6 325.2 L1101.4 324.8 L1103.1 324.3 L1104.9 323.8 L1106.7 323.2 L1108.5 322.5 L1110.2 321.7 L1112.0 320.9 L1113.7 320.0 L1115.5 319.0 L1117.2 318.0 L1118.9 317.0 L1120.6 315.9 L1122.3 314.8 L1124.0 313.6 L1125.7 312.4 L1127.3 311.2 L1129.0 309.9 L1130.6 308.7 L1132.2 307.4 L1133.8 306.1 L1135.3 304.8 L1136.9 303.5 L1138.5 302.2 L1140.0 300.9 L1141.5 299.5 L1143.0 298.2 L1144.5 296.8 L1146.0 295.5 L1147.5 294.1 L1149.0 292.7 L1150.5 291.3 L1151.9 289.9 L1153.4 288.5 L1154.8 287.1 L1156.2 285.7 L1157.7 284.3 L1159.1 282.8 L1160.5 281.4 L1161.9 280.0 L1163.3 278.5 L1164.7 277.1 L1166.2 275.7 L1167.6 274.2 L1169.0 272.8 L1170.4 271.4 L1171.7 269.9 L1173.1 268.5 L1174.5 267.1 L1175.9 265.6 L1177.3 264.2 L1178.7 262.8 L1180.2 261.4 L1181.6 259.9 L1183.0 258.5 L1184.4 257.1 L1185.8 255.7 L1187.2 254.3 L1188.7 253.0 L1190.1 251.6 L1191.6 250.2 L1193.0 248.9 L1194.5 247.5 L1195.9 246.2 L1197.4 244.8 L1198.9 243.5 L1200.4 242.2 L1201.9 240.9 L1203.4 239.6 L1205.0 238.4 L1206.5 237.1 L1208.0 235.9 L1209.6 234.6 L1211.1 233.4 L1212.7 232.2 L1214.3 231.0 L1215.9 229.8 L1217.5 228.6 L1219.1 227.4 L1220.7 226.2 L1222.3 225.0 L1223.9 223.9 L1225.5 222.8 L1227.2 221.6 L1228.8 220.5 L1230.5 219.4 L1232.1 218.3 L1233.8 217.2 L1235.5 216.1 L1237.1 215.0 L1238.8 213.9 L1240.5 212.9 L1242.2 211.8 L1243.9 210.8 L1245.6 209.7 L1247.3 208.7 L1249.1 207.7 L1250.8 206.6 L1252.5 205.6 L1254.3 204.6 L1256.0 203.6 L1257.7 202.7 L1259.5 201.7 L1261.3 200.7 L1263.0 199.7 L1264.8 198.8 L1266.6 197.8 L1268.3 196.9 L1270.1 195.9 L1271.9 195.0 L1273.7 194.1 L1275.5 193.2 L1277.3 192.2 L1279.1 191.3 L1280.9 190.4 L1282.7 189.5 L1284.5 188.6 L1286.3 187.8 L1288.1 186.9 L1289.9 186.0 L1291.7 185.1 L1293.6 184.3 L1295.4 183.4 L1297.2 182.6 L1299.0 181.7 L1300.9 180.9 L1302.7 180.0 L1304.5 179.2 L1306.4 178.4 L1308.2 177.5 L1310.1 176.7 L1311.9 175.9 L1313.8 175.1 L1315.6 174.3 L1317.4 173.5 L1319.3 172.7 L1321.1 171.9 L1323.0 171.1 L1324.8 170.3 L1326.7 169.5 L1328.5 168.7 L1330.4 167.9 L1332.2 167.1 L1334.1 166.3 L1335.9 165.6 L1337.8 164.8 L1339.6 164.0 L1341.5 163.3 L1343.3 162.5 L1345.2 161.7 L1347.0 161.0 L1348.8 160.2 L1350.7 159.4 L1352.5 158.7 L1354.4 157.9 L1356.2 157.2 L1358.0 156.4 L1359.9 155.7 L1361.7 154.9 L1363.5 154.2 L1365.4 153.4 L1367.2 152.7 L1369.0 151.9 L1370.8 151.2 L1372.7 150.4 L1374.5 149.7 L1376.3 148.9 L1378.1 148.2 L1379.9 147.5 L1382.0 147.0" stroke="#808080" stroke-width="6"/>
<path d="M107.5 120.0 L109.3 118.7 L111.2 117.5 L113.1 116.6 L115.0 116.0 L116.9 115.7 L118.8 115.6 L120.7 115.8 L122.6 116.1 L124.4 116.7 L126.3 117.4 L128.1 118.3 L129.8 119.3 L131.6 120.4 L133.3 121.6 L135.0 122.9 L136.6 124.2 L138.2 125.6 L139.7 127.0 L141.1 128.4 L142.6 129.7 L144.0 131.0 L154.5 130.5 L155.2 132.4 L155.8 134.3 L156.4 136.2 L157.0 138.1 L157.6 140.0 L158.3 141.9 L159.0 143.8 L159.6 145.7 L160.3 147.6 L161.0 149.5 L161.7 151.3 L162.4 153.2 L163.2 155.1 L163.9 156.9 L164.6 158.8 L165.4 160.7 L166.1 162.5 L166.8 164.4 L167.6 166.3 L168.3 168.1 L169.1 170.0 L169.8 171.9 L170.5 173.7 L171.3 175.6 L172.0 177.5 L172.7 179.4 L173.4 181.2 L174.1 183.1 L174.8 185.0 L175.5 186.9 L176.2 188.8 L176.9 190.6 L177.6 192.5 L178.3 194.4 L179.0 196.3 L179.6 198.2 L180.3 200.0 L181.0 201.9 L181.7 203.8 L182.4 205.6 L183.2 207.5 L183.9 209.4 L184.6 211.2 L185.3 213.1 L186.1 214.9 L186.8 216.7 L187.6 218.6 L188.4 220.4 L189.2 222.2 L190.0 224.0 L190.8 225.8 L191.7 227.7 L192.5 229.5 L193.4 231.3 L194.3 233.1 L195.2 234.9 L196.2 236.7 L197.1 238.6 L198.1 240.4 L199.2 242.2 L200.2 244.1 L201.3 245.9 L202.4 247.8 L203.6 249.6 L204.8 251.3 L206.0 253.0 L207.3 254.6 L208.7 256.1 L210.1 257.5 L211.6 258.8 L213.2 259.9 L214.8 260.8 L216.5 261.6 L218.3 262.2 L220.1 262.7 L221.9 263.0 L223.8 263.2 L225.7 263.3 L227.7 263.2 L229.6 263.0 L231.6 262.7 L233.5 262.3 L235.5 261.8 L237.4 261.1 L239.3 260.4 L241.1 259.7 L242.9 258.8 L244.7 257.9 L246.5 256.9 L248.2 255.8 L249.8 254.7 L251.5 253.5 L253.1 252.4 L254.8 251.1 L256.4 249.9 L258.0 248.6 L259.5 247.3 L261.1 245.9 L262.7 244.6 L264.2 243.3 L265.8 242.0 L267.4 240.6 L269.0 239.3 L270.5 238.1 L272.1 236.8 L273.7 235.5 L275.3 234.3 L276.9 233.1 L278.6 231.9 L280.2 230.7 L281.8 229.5 L283.5 228.3 L285.1 227.1 L286.8 226.0 L288.4 224.9 L290.1 223.8 L291.8 222.6 L293.4 221.6 L295.1 220.5 L296.8 219.4 L298.5 218.3 L300.2 217.3 L301.9 216.3 L303.6 215.2 L305.3 214.2 L307.1 213.2 L308.8 212.2 L310.5 211.2 L312.3 210.2 L314.0 209.3 L315.7 208.3 L317.5 207.4 L319.3 206.4 L321.0 205.5 L322.8 204.6 L324.6 203.6 L326.4 202.7 L328.1 201.8 L329.9 200.9 L331.7 200.0 L333.5 199.1 L335.3 198.3 L337.1 197.4 L339.0 196.5 L340.8 195.7 L342.6 194.8 L344.4 193.9 L346.2 193.1 L348.1 192.2 L349.9 191.4 L351.7 190.6 L353.6 189.7 L355.4 188.9 L357.2 188.0 L359.1 187.2 L360.9 186.4 L362.8 185.5 L364.6 184.7 L366.4 183.9 L368.3 183.0 L370.1 182.2 L371.9 181.4 L373.8 180.5 L375.6 179.7 L377.4 178.8 L379.3 178.0 L381.1 177.1 L382.9 176.3 L384.7 175.4 L386.6 174.5 L388.4 173.7 L390.2 172.8 L392.0 171.9 L393.8 171.0 L395.6 170.1 L397.4 169.2 L399.2 168.3 L401.0 167.4 L402.7 166.5 L404.5 165.5 L406.3 164.6 L408.0 163.6 L409.8 162.7 L411.5 161.7 L413.3 160.7 L415.0 159.7 L416.7 158.7 L418.4 157.7 L420.1 156.7 L421.8 155.6 L423.5 154.6 L425.2 153.5 L426.9 152.4 L428.5 151.3 L430.2 150.2 L431.8 149.1 L433.4 148.0 L435.1 146.8 L436.7 145.7 L438.3 144.5 L439.8 143.3 L441.4 142.0 L443.0 140.8 L444.5 139.6 L446.0 138.3 L447.6 137.0 L449.1 135.7 L450.6 134.4 L451.7 132.5 L453.2 134.0 L454.2 135.8 L455.3 137.5 L456.2 139.3 L457.1 141.1 L458.0 142.9 L458.8 144.7 L459.5 146.6 L460.2 148.4 L460.9 150.3 L461.5 152.1 L462.0 154.0 L462.6 155.9 L463.0 157.8 L463.5 159.8 L463.9 161.7 L464.3 163.6 L464.6 165.6 L465.0 167.5 L465.3 169.5 L465.5 171.5 L465.8 173.5 L466.0 175.4 L466.2 177.4 L466.4 179.4 L466.6 181.4 L466.8 183.4 L467.0 185.4 L467.1 187.4 L467.2 189.4 L467.4 191.4 L467.5 193.4 L467.6 195.4 L467.7 197.4 L467.8 199.4 L467.9 201.5 L468.0 203.5 L468.1 205.5 L468.1 207.5 L468.2 209.5 L468.3 211.5 L468.4 213.6 L468.5 215.6 L468.5 217.6 L468.6 219.6 L468.7 221.6 L468.8 223.6 L468.9 225.7 L469.0 227.7 L469.2 229.7 L469.3 231.7 L469.4 233.7 L469.5 235.7 L469.7 237.7 L469.8 239.7 L469.9 241.7 L470.1 243.7 L470.3 245.7 L470.4 247.7 L470.6 249.7 L470.8 251.7 L471.0 253.7 L471.1 255.7 L471.4 257.7 L471.6 259.7 L471.8 261.7 L472.0 263.7 L472.2 265.7 L472.5 267.7 L472.7 269.7 L473.0 271.6 L473.3 273.6 L473.5 275.6 L473.8 277.6 L474.1 279.5 L474.4 281.5 L474.8 283.5 L475.1 285.5 L475.4 287.4 L475.8 289.4 L476.2 291.4 L476.5 293.3 L476.9 295.3 L477.3 297.2 L477.7 299.2 L478.2 301.1 L478.6 303.1 L479.0 305.0 L479.5 307.0 L480.0 308.9 L480.5 310.9 L481.0 312.8 L481.5 314.7 L482.0 316.7 L482.6 318.6 L483.1 320.5 L483.7 322.4 L484.3 324.3 L484.9 326.3 L486.0 328.0 L486.9 326.2 L487.9 324.4 L488.7 322.6 L489.5 320.8 L490.2 318.9 L490.9 317.0 L491.5 315.1 L492.1 313.2 L492.6 311.3 L493.1 309.3 L493.6 307.4 L494.0 305.4 L494.4 303.4 L494.8 301.5 L495.2 299.5 L495.5 297.5 L495.9 295.5 L496.2 293.5 L496.5 291.5 L496.9 289.5 L497.2 287.5 L497.5 285.5 L497.9 283.5 L498.3 281.5 L498.7 279.6 L499.1 277.6 L499.5 275.7 L500.0 273.7 L500.5 271.8 L501.1 269.9 L501.7 268.0 L502.3 266.1 L503.0 264.3 L503.7 262.5 L504.5 260.7 L505.4 258.9 L506.3 257.2 L507.3 255.4 L508.3 253.8 L509.4 252.1 L510.5 250.5 L511.7 248.9 L512.9 247.3 L514.2 245.8 L515.5 244.3 L516.9 242.8 L518.3 241.4 L519.8 240.0 L521.3 238.7 L522.8 237.4 L524.4 236.2 L526.0 235.0 L527.7 233.8 L529.4 232.8 L531.1 231.8 L532.9 230.8 L534.7 229.9 L536.5 229.1 L538.4 228.4 L540.2 227.8 L542.1 227.2 L544.1 226.7 L546.0 226.3 L548.0 225.9 L549.9 225.7 L551.9 225.6 L553.9 225.5 L556.0 225.6 L558.0 225.8 L559.2 227.4 L560.0 229.3 L560.8 231.1 L561.6 233.0 L562.3 234.9 L563.0 236.8 L563.7 238.7 L564.3 240.6 L564.9 242.5 L565.6 244.4 L566.2 246.3 L566.8 248.3 L567.3 250.2 L567.9 252.1 L568.4 254.1 L569.0 256.0 L569.5 258.0 L570.0 260.0 L570.5 261.9 L571.0 263.9 L571.5 265.9 L572.0 267.9 L572.5 269.8 L572.9 271.8 L573.4 273.8 L573.9 275.8 L574.4 277.8 L574.8 279.7 L575.3 281.7 L575.8 283.7 L576.3 285.7 L576.8 287.7 L577.3 289.6 L577.8 291.6 L578.4 293.6 L578.9 295.5 L579.4 297.5 L580.0 299.4 L580.6 301.4 L581.2 303.3 L581.8 305.2 L582.4 307.2 L583.0 309.1 L583.7 311.0 L584.4 312.9 L585.1 314.8 L585.8 316.7 L586.3 314.7 L586.8 312.7 L587.3 310.7 L587.9 308.7 L588.5 306.7 L589.1 304.7 L589.7 302.7 L590.4 300.8 L591.0 298.8 L591.7 296.8 L592.3 294.9 L593.0 292.9 L593.6 290.9 L594.2 289.0 L594.8 287.0 L595.4 285.0 L596.0 283.0 L596.6 285.0 L596.8 286.9 L597.0 288.9 L597.2 290.9 L597.4 292.9 L597.6 294.9 L597.8 296.9 L598.0 298.9 L598.2 300.9 L598.4 302.9 L598.6 304.9 L598.8 306.9 L599.0 308.9 L599.1 310.9 L599.3 312.9 L599.5 314.9 L599.7 316.9 L599.8 318.9 L600.0 320.8 L600.2 322.8 L600.4 324.8 L600.5 326.8 L600.7 328.8 L600.9 330.8 L601.0 332.8 L601.2 334.8 L601.3 336.8 L601.5 338.8 L601.6 340.8 L601.8 342.8 L601.9 344.8 L602.1 346.8 L602.2 348.8 L602.4 350.8 L602.5 352.8 L602.7 354.8 L602.8 356.8 L602.9 358.8 L603.1 360.8 L603.2 362.8 L603.3 364.8 L603.5 366.8 L603.6 368.9 L603.7 370.9 L603.9 372.9 L604.0 374.9 L604.1 376.9 L604.3 378.9 L604.4 380.9 L604.5 382.9 L604.6 384.9 L604.8 386.9 L604.9 388.9 L605.0 390.9 L605.1 392.9 L605.2 394.9 L605.4 396.9 L605.5 398.9 L605.6 400.9 L605.7 402.9 L605.8 404.9 L605.9 406.9 L606.0 408.9 L606.2 410.9 L606.3 412.9 L606.4 414.9 L606.5 416.9 L606.6 418.9 L606.7 420.9 L606.8 422.9 L606.9 424.9 L607.0 426.9 L607.2 429.0 L607.3 431.0 L607.4 433.0 L607.5 435.0 L607.6 437.0 L607.7 439.0 L607.8 441.0 L607.9 443.0 L608.0 445.0 L608.1 447.0 L608.2 449.0 L608.4 451.0 L608.5 453.0 L608.6 455.0 L608.7 457.0 L608.8 459.0 L608.9 461.0 L609.0 463.0 L609.0 465.0 L609.6 463.1 L609.8 461.1 L610.0 459.1 L610.3 457.1 L610.5 455.2 L610.7 453.2 L610.9 451.2 L611.1 449.2 L611.3 447.2 L611.5 445.2 L611.6 443.2 L611.8 441.2 L612.0 439.3 L612.1 437.3 L612.3 435.3 L612.4 433.3 L612.5 431.3 L612.7 429.3 L612.8 427.3 L612.9 425.3 L613.0 423.3 L613.2 421.3 L613.3 419.3 L613.4 417.2 L613.5 415.2 L613.6 413.2 L613.7 411.2 L613.8 409.2 L613.9 407.2 L614.0 405.2 L614.1 403.2 L614.2 401.2 L614.3 399.2 L614.3 397.2 L614.4 395.2 L614.5 393.2 L614.6 391.2 L614.7 389.2 L614.8 387.2 L614.9 385.2 L615.0 383.2 L615.1 381.2 L615.2 379.2 L615.3 377.2 L615.4 375.2 L615.5 373.3 L615.6 371.3 L615.7 369.3 L615.9 367.3 L616.0 365.3 L616.1 363.3 L616.2 361.3 L616.4 359.3 L616.5 357.3 L616.7 355.3 L616.8 353.4 L617.0 351.4 L617.1 349.4 L617.3 347.4 L617.5 345.4 L617.7 343.4 L617.9 341.4 L618.1 339.4 L618.3 337.4 L618.5 335.5 L618.7 333.5 L619.0 331.5 L619.2 329.5 L619.5 327.5 L619.7 325.5 L620.0 323.5 L620.3 321.5 L620.6 319.6 L620.9 317.6 L621.2 315.6 L621.5 313.6 L621.9 311.6 L622.2 309.6 L622.6 307.6 L623.0 305.6 L623.4 303.6 L623.8 301.7 L624.3 299.7 L624.9 297.7 L625.5 295.8 L626.1 293.9 L626.8 292.0 L627.6 290.1 L628.5 288.2 L629.4 286.4 L630.5 284.6 L631.6 283.0 L632.8 281.4 L634.1 279.9 L635.5 278.6 L637.1 277.4 L638.7 276.4 L640.4 275.5 L642.1 274.8 L643.9 274.2 L645.8 273.7 L647.6 273.4 L649.5 273.1 L651.4 273.0 L653.3 273.0 L655.2 273.1 L657.2 273.3 L659.1 273.6 L661.1 274.0 L663.0 274.4 L665.0 275.0 L667.0 275.6 L668.9 276.2 L670.9 276.9 L672.9 277.7 L674.8 278.5 L676.7 279.3 L678.7 280.2 L680.6 281.1 L682.4 282.0 L684.3 283.0 L686.1 283.9 L688.0 284.9 L689.7 285.9 L691.5 286.9 L693.3 287.9 L695.0 288.9 L696.7 290.0 L698.4 291.1 L700.1 292.1 L701.7 293.2 L703.4 294.4 L705.0 295.5 L706.6 296.7 L708.1 297.9 L709.7 299.1 L711.2 300.3 L712.7 301.5 L714.2 302.8 L715.7 304.0 L717.1 305.3 L718.6 306.7 L720.0 308.0 L721.4 309.4 L722.8 310.7 L724.1 312.2 L725.5 313.6 L726.8 315.0 L728.1 316.5 L729.4 318.0 L730.6 319.5 L731.9 321.0 L733.1 322.6 L734.4 324.1 L735.6 325.7 L736.8 327.3 L738.0 328.9 L739.2 330.5 L740.4 332.2 L741.7 333.8 L742.9 335.5 L744.1 337.1 L745.3 338.8 L746.6 340.4 L747.8 342.1 L749.1 343.8 L750.4 345.4 L751.7 347.1 L753.0 348.8 L754.4 350.4 L755.8 352.0 L757.2 353.6 L758.6 355.2 L760.1 356.6 L761.6 357.9 L763.2 359.1 L764.8 360.2 L766.4 361.0 L768.2 361.7 L769.9 362.2 L771.7 362.5 L773.5 362.6 L775.3 362.5 L777.1 362.1 L778.8 361.6 L780.5 360.8 L782.1 359.8 L783.6 358.6 L785.1 357.3 L786.5 355.9 L787.9 354.3 L789.2 352.6 L790.5 350.9 L791.7 349.1 L792.9 347.3 L794.0 345.5 L795.1 343.6 L796.1 341.8 L797.1 340.0 L798.1 338.2 L799.1 336.4 L800.0 334.6 L800.9 332.8 L801.8 331.0 L802.6 329.2 L803.5 327.4 L804.3 325.6 L805.2 323.8 L806.0 322.0 L806.8 320.2 L807.7 318.4 L808.5 316.6 L809.3 314.8 L810.2 313.0 L811.0 311.2 L811.8 309.4 L812.7 307.6 L813.5 305.9 L814.4 304.1 L815.3 302.3 L816.1 300.5 L817.0 298.7 L817.9 296.9 L818.8 295.1 L819.7 293.3 L820.6 291.6 L821.5 289.8 L822.4 288.0 L823.4 286.3 L824.3 284.5 L825.3 282.8 L826.2 281.0 L827.2 279.3 L828.2 277.5 L829.2 275.8 L830.2 274.1 L831.2 272.3 L832.2 270.6 L833.3 268.9 L834.3 267.2 L835.4 265.5 L836.5 263.9 L837.6 262.2 L838.7 260.5 L839.8 258.8 L841.0 257.2 L842.2 255.6 L843.3 253.9 L844.5 252.3 L845.7 250.7 L847.0 249.1 L848.2 247.5 L849.5 245.9 L850.8 244.3 L852.1 242.8 L853.4 241.2 L854.8 239.7 L856.1 238.1 L857.5 236.6 L858.9 235.1 L860.4 233.7 L861.8 232.2 L863.3 230.8 L864.8 229.5 L866.3 228.2 L867.9 227.0 L869.5 225.9 L871.1 224.9 L872.8 224.0 L874.5 223.2 L876.2 222.5 L878.0 222.0 L879.8 221.6 L881.7 221.4 L883.6 221.4 L885.5 221.5 L887.5 221.7 L889.5 222.1 L891.5 222.6 L893.5 223.2 L895.5 223.9 L897.5 224.6 L899.5 225.4 L901.4 226.2 L903.3 227.1 L905.2 227.9 L907.1 228.8 L908.9 229.7 L910.8 230.6 L912.6 231.6 L914.3 232.6 L916.1 233.6 L917.8 234.6 L919.6 235.6 L921.3 236.6 L923.0 237.6 L924.7 238.7 L926.3 239.8 L928.0 240.8 L929.7 241.9 L931.3 243.0 L933.0 244.1 L934.6 245.2 L936.2 246.3 L937.9 247.4 L939.5 248.5 L941.2 249.7 L942.8 250.8 L944.4 251.9 L946.1 253.0 L947.7 254.1 L949.4 255.1 L951.1 256.2 L952.7 257.3 L954.4 258.4 L956.1 259.5 L957.7 260.6 L959.4 261.6 L961.1 262.7 L962.8 263.8 L964.5 264.9 L966.1 266.0 L967.8 267.1 L969.5 268.3 L971.1 269.4 L972.8 270.5 L974.4 271.7 L976.1 272.8 L977.7 274.0 L979.3 275.2 L981.0 276.4 L982.6 277.6 L984.2 278.8 L985.8 280.1 L987.3 281.3 L988.9 282.6 L990.5 283.9 L992.0 285.2 L993.6 286.5 L995.1 287.8 L996.6 289.1 L998.1 290.4 L999.6 291.8 L1001.1 293.2 L1002.6 294.5 L1004.0 295.9 L1005.5 297.3 L1006.9 298.7 L1008.3 300.1 L1009.7 301.6 L1011.1 303.0 L1012.4 304.5 L1013.8 305.9 L1015.1 307.4 L1016.4 308.9 L1017.7 310.4 L1019.0 311.9 L1020.2 313.4 L1021.5 314.9 L1022.7 316.4 L1023.9 318.0 L1025.2 319.5 L1026.4 321.0 L1027.6 322.6 L1028.9 324.1 L1030.1 325.6 L1031.4 327.2 L1032.7 328.7 L1034.0 330.2 L1035.3 331.7 L1036.6 333.2 L1038.0 334.7 L1039.4 336.1 L1040.8 337.6 L1042.2 339.0 L1043.7 340.4 L1045.1 341.8 L1046.6 343.2 L1048.1 344.6 L1049.6 345.9 L1051.2 347.2 L1052.7 348.5 L1054.3 349.8 L1055.9 351.0 L1057.6 352.2 L1059.2 353.4 L1060.9 354.5 L1062.6 355.6 L1064.3 356.7 L1066.0 357.8 L1067.8 358.8 L1069.6 359.8 L1071.4 360.7 L1073.2 361.6 L1075.0 362.4 L1076.9 363.1 L1078.7 363.7 L1080.6 364.1 L1082.5 364.4 L1084.4 364.6 L1086.2 364.6 L1088.1 364.4 L1090.0 364.1 L1091.9 363.6 L1093.7 363.0 L1095.6 362.3 L1097.4 361.5 L1099.2 360.6 L1101.0 359.6 L1102.7 358.5 L1104.5 357.3 L1106.2 356.1 L1107.8 354.8 L1109.5 353.5 L1111.1 352.1 L1112.6 350.7 L1114.1 349.3 L1115.6 347.8 L1117.0 346.4 L1118.4 344.9 L1119.8 343.4 L1121.1 341.9 L1122.4 340.4 L1123.7 338.9 L1124.9 337.4 L1126.2 335.8 L1127.4 334.3 L1128.6 332.7 L1129.9 331.2 L1131.1 329.6 L1132.3 328.1 L1133.5 326.5 L1134.8 324.9 L1136.0 323.4 L1137.2 321.8 L1138.5 320.2 L1139.7 318.7 L1140.9 317.1 L1142.2 315.6 L1143.4 314.0 L1144.6 312.4 L1145.9 310.9 L1147.1 309.3 L1148.4 307.7 L1149.6 306.2 L1150.9 304.6 L1152.1 303.0 L1153.4 301.5 L1154.6 299.9 L1155.9 298.4 L1157.1 296.8 L1158.4 295.3 L1159.7 293.7 L1161.0 292.2 L1162.2 290.6 L1163.5 289.1 L1164.8 287.5 L1166.1 286.0 L1167.4 284.5 L1168.7 283.0 L1170.0 281.4 L1171.3 279.9 L1172.6 278.4 L1173.9 276.9 L1175.3 275.4 L1176.6 273.9 L1177.9 272.4 L1179.3 270.9 L1180.6 269.4 L1182.0 267.9 L1183.3 266.5 L1184.7 265.0 L1186.1 263.6 L1187.5 262.1 L1188.8 260.7 L1190.2 259.2 L1191.6 257.8 L1193.0 256.4 L1194.5 255.0 L1195.9 253.6 L1197.3 252.2 L1198.7 250.8 L1200.2 249.4 L1201.6 248.0 L1203.1 246.6 L1204.6 245.3 L1206.0 243.9 L1207.5 242.6 L1209.0 241.3 L1210.5 239.9 L1212.0 238.6 L1213.5 237.3 L1215.0 236.0 L1216.5 234.7 L1218.1 233.4 L1219.6 232.1 L1221.1 230.9 L1222.7 229.6 L1224.2 228.4 L1225.8 227.1 L1227.4 225.9 L1228.9 224.6 L1230.5 223.4 L1232.1 222.2 L1233.7 221.0 L1235.3 219.8 L1236.9 218.6 L1238.5 217.4 L1240.1 216.2 L1241.7 215.0 L1243.3 213.9 L1245.0 212.7 L1246.6 211.6 L1248.3 210.4 L1249.9 209.3 L1251.6 208.2 L1253.2 207.0 L1254.9 205.9 L1256.5 204.8 L1258.2 203.7 L1259.9 202.6 L1261.6 201.5 L1263.3 200.4 L1265.0 199.4 L1266.7 198.3 L1268.4 197.3 L1270.1 196.2 L1271.8 195.2 L1273.5 194.1 L1275.2 193.1 L1276.9 192.1 L1278.7 191.0 L1280.4 190.0 L1282.1 189.0 L1283.9 188.0 L1285.6 187.0 L1287.4 186.0 L1289.1 185.1 L1290.9 184.1 L1292.6 183.1 L1294.4 182.2 L1296.1 181.2 L1297.9 180.3 L1299.7 179.3 L1301.5 178.4 L1303.2 177.5 L1305.0 176.5 L1306.8 175.6 L1308.6 174.7 L1310.4 173.8 L1312.2 172.9 L1314.0 172.0 L1315.8 171.1 L1317.6 170.2 L1319.4 169.4 L1321.2 168.5 L1323.0 167.6 L1324.8 166.8 L1326.6 165.9 L1328.5 165.1 L1330.3 164.2 L1332.1 163.4 L1333.9 162.6 L1335.8 161.8 L1337.6 160.9 L1339.4 160.1 L1341.3 159.3 L1343.1 158.5 L1344.9 157.7 L1346.8 157.0 L1348.6 156.2 L1350.4 155.4 L1352.3 154.6 L1354.1 153.9 L1356.0 153.1 L1357.8 152.3 L1359.7 151.6 L1361.5 150.8 L1363.4 150.1 L1365.2 149.4 L1367.1 148.6 L1368.9 147.9 L1370.8 147.2 L1372.6 146.5 L1374.5 145.8 L1376.3 145.1 L1378.2 144.4 L1380.1 143.7 L1382.0 143.0" stroke="#0000ff" stroke-width="4.7" stroke-dasharray="19 5.8 2.2 5.8"/>
<path d="M107.5 45.0 L109.5 45.6 L111.2 46.8 L112.9 47.9 L114.5 49.1 L116.2 50.3 L117.8 51.5 L119.4 52.8 L120.9 54.1 L122.5 55.4 L124.0 56.7 L125.5 58.0 L127.0 59.4 L128.4 60.8 L129.9 62.2 L131.3 63.6 L132.6 65.0 L134.0 66.5 L135.3 68.0 L136.7 69.5 L138.0 71.0 L139.2 72.5 L140.5 74.0 L141.7 75.6 L142.9 77.2 L144.1 78.7 L145.3 80.3 L146.5 82.0 L147.6 83.6 L148.7 85.2 L149.8 86.9 L150.9 88.6 L152.0 90.2 L153.1 91.9 L154.1 93.6 L155.1 95.3 L156.1 97.1 L157.1 98.8 L158.1 100.5 L159.0 102.3 L160.0 104.1 L160.9 105.8 L161.8 107.6 L162.7 109.4 L163.6 111.2 L164.5 113.0 L165.3 114.8 L166.2 116.6 L167.0 118.4 L167.8 120.3 L168.6 122.1 L169.4 124.0 L170.2 125.8 L171.0 127.7 L171.7 129.6 L172.5 131.4 L173.2 133.3 L173.9 135.2 L174.6 137.1 L175.3 139.0 L176.0 140.9 L176.7 142.8 L177.3 144.7 L178.0 146.6 L178.6 148.5 L179.3 150.4 L179.9 152.4 L180.5 154.3 L181.1 156.2 L181.7 158.2 L182.3 160.1 L182.8 162.0 L183.4 164.0 L184.0 165.9 L184.5 167.9 L185.1 169.8 L185.6 171.8 L186.1 173.7 L186.6 175.7 L187.1 177.6 L187.6 179.6 L188.1 181.5 L188.6 183.5 L189.1 185.4 L189.6 187.4 L190.1 189.3 L190.5 191.3 L191.0 193.2 L191.4 195.2 L191.9 197.2 L192.3 199.1 L192.8 201.1 L193.2 203.0 L193.6 205.0 L194.0 207.0 L194.5 208.9 L194.9 210.9 L195.3 212.8 L195.7 214.8 L196.1 216.8 L196.5 218.7 L196.9 220.7 L197.2 222.7 L197.6 224.6 L198.0 226.6 L198.4 228.6 L198.8 230.5 L199.1 232.5 L199.5 234.5 L199.9 236.4 L200.2 238.4 L200.6 240.4 L200.9 242.3 L201.3 244.3 L201.6 246.3 L202.0 248.2 L202.3 250.2 L202.7 252.2 L203.0 254.2 L203.4 256.1 L203.7 258.1 L204.0 260.1 L204.4 262.1 L204.7 264.0 L205.1 266.0 L205.4 268.0 L205.7 269.9 L206.1 271.9 L206.4 273.9 L206.7 275.9 L207.1 277.8 L207.4 279.8 L207.8 281.8 L208.1 283.8 L208.4 285.7 L208.8 287.7 L209.1 289.7 L209.4 291.7 L209.7 293.7 L210.1 295.6 L210.4 297.6 L210.7 299.6 L211.1 301.6 L211.4 303.5 L211.7 305.5 L212.1 307.5 L212.4 309.5 L212.7 311.5 L213.1 313.4 L213.4 315.4 L213.7 317.4 L214.0 319.4 L214.4 321.4 L214.7 323.3 L215.0 325.3 L215.4 327.3 L215.7 329.3 L216.0 331.3 L216.3 333.2 L216.7 335.2 L217.0 337.2 L217.3 339.2 L217.6 341.2 L218.0 343.1 L218.3 345.1 L218.6 347.1 L219.0 349.1 L219.3 351.1 L219.6 353.1 L220.0 355.0 L220.3 357.0 L220.6 359.0 L221.0 361.0 L221.3 363.0 L221.6 364.9 L222.0 366.9 L222.3 368.9 L222.7 370.9 L223.0 372.9 L223.4 374.8 L223.7 376.8 L224.1 378.8 L224.4 380.8 L224.8 382.7 L225.2 384.7 L225.5 386.7 L225.9 388.7 L226.3 390.6 L226.7 392.6 L227.0 394.6 L227.4 396.5 L227.8 398.5 L228.2 400.5 L228.6 402.4 L229.0 404.4 L229.4 406.4 L229.8 408.3 L230.3 410.3 L230.7 412.2 L231.1 414.2 L231.6 416.2 L232.5 418.0 L240.8 418.0 L241.3 416.1 L241.8 414.1 L242.2 412.2 L242.7 410.2 L243.1 408.2 L243.5 406.3 L244.0 404.3 L244.4 402.3 L244.8 400.4 L245.2 398.4 L245.6 396.4 L246.0 394.5 L246.5 392.5 L246.9 390.5 L247.3 388.6 L247.7 386.6 L248.1 384.7 L248.5 382.7 L248.9 380.8 L249.3 378.8 L249.7 376.9 L250.1 374.9 L250.5 373.0 L250.9 371.0 L251.4 369.1 L251.8 367.1 L252.2 365.2 L252.6 363.3 L253.1 361.3 L253.5 359.4 L254.0 357.5 L254.4 355.5 L254.9 353.6 L255.4 351.7 L255.8 349.7 L256.3 347.8 L256.8 345.9 L257.3 344.0 L257.9 342.0 L258.4 340.1 L258.9 338.2 L259.5 336.3 L260.0 334.4 L260.6 332.5 L261.2 330.5 L261.8 328.6 L262.4 326.7 L263.0 324.8 L263.6 322.9 L264.3 321.0 L265.0 319.1 L265.6 317.2 L266.3 315.3 L267.0 313.4 L267.8 311.6 L268.5 309.7 L269.2 307.8 L270.0 305.9 L270.8 304.1 L271.6 302.2 L272.4 300.4 L273.2 298.5 L274.0 296.7 L274.9 294.8 L275.8 293.0 L276.6 291.2 L277.5 289.4 L278.4 287.6 L279.4 285.8 L280.3 284.0 L281.2 282.2 L282.2 280.5 L283.2 278.7 L284.2 277.0 L285.2 275.2 L286.2 273.5 L287.3 271.8 L288.3 270.1 L289.4 268.4 L290.5 266.7 L291.6 265.0 L292.7 263.4 L293.9 261.7 L295.0 260.1 L296.2 258.5 L297.4 256.9 L298.6 255.3 L299.8 253.7 L301.0 252.2 L302.3 250.6 L303.5 249.1 L304.8 247.6 L306.1 246.1 L307.4 244.6 L308.7 243.2 L310.1 241.7 L311.4 240.3 L312.8 238.9 L314.2 237.5 L315.6 236.1 L317.1 234.7 L318.5 233.4 L320.0 232.1 L321.4 230.8 L322.9 229.5 L324.4 228.2 L326.0 227.0 L327.5 225.8 L329.1 224.6 L330.7 223.4 L332.3 222.2 L333.9 221.1 L335.5 220.0 L337.2 218.9 L338.8 217.8 L340.5 216.8 L342.2 215.7 L343.9 214.7 L345.7 213.8 L347.4 212.8 L349.2 211.9 L351.0 211.0 L352.8 210.1 L354.6 209.2 L356.5 208.4 L358.4 207.5 L360.2 206.7 L362.1 205.9 L364.0 205.1 L366.0 204.2 L367.9 203.4 L369.9 202.6 L371.9 201.8 L373.9 201.0 L375.9 200.2 L377.9 199.4 L380.0 198.6 L382.0 197.9 L384.0 197.1 L386.1 196.5 L388.1 195.9 L390.1 195.4 L392.1 195.0 L394.0 194.7 L396.0 194.5 L397.9 194.4 L399.8 194.5 L401.6 194.7 L403.4 195.0 L405.1 195.6 L406.8 196.2 L408.4 197.0 L409.9 198.0 L411.4 199.1 L412.7 200.3 L414.0 201.7 L415.2 203.2 L416.3 204.7 L417.4 206.4 L418.3 208.1 L419.3 209.9 L420.1 211.8 L421.0 213.7 L421.7 215.6 L422.5 217.6 L423.1 219.5 L423.8 221.5 L424.4 223.4 L424.9 225.4 L425.5 227.3 L426.0 229.3 L426.4 231.2 L426.9 233.2 L427.3 235.2 L427.7 237.1 L428.1 239.1 L428.4 241.1 L428.8 243.0 L429.1 245.0 L429.5 247.0 L429.8 248.9 L430.1 250.9 L430.4 252.9 L430.7 254.9 L431.0 256.8 L431.3 258.8 L431.7 260.7 L432.0 262.7 L432.3 264.7 L432.7 266.6 L433.1 268.6 L433.4 270.5 L433.8 272.5 L434.3 274.4 L434.7 276.4 L435.2 278.3 L435.7 280.3 L436.3 282.2 L436.8 284.1 L437.4 286.1 L438.1 288.0 L438.3 290.0 L438.6 288.0 L438.9 286.0 L439.2 284.0 L439.4 282.0 L439.7 280.0 L440.0 278.0 L440.3 276.0 L440.6 274.0 L440.9 272.0 L441.2 270.0 L441.5 268.0 L441.8 266.0 L442.1 264.0 L442.5 262.0 L442.8 260.0 L443.2 258.1 L443.6 256.1 L444.0 254.1 L444.5 252.2 L444.9 250.2 L445.4 248.3 L445.9 246.4 L446.4 244.4 L446.9 242.5 L447.5 240.6 L448.1 238.7 L448.7 236.8 L449.4 235.0 L450.1 233.1 L450.8 231.2 L451.6 229.4 L452.4 227.5 L453.2 225.7 L454.0 223.9 L455.0 222.1 L455.9 220.3 L456.9 218.5 L457.9 216.8 L459.0 215.0 L460.1 213.3 L461.3 211.6 L462.5 209.9 L463.8 208.3 L465.1 206.7 L466.5 205.2 L468.0 203.8 L469.5 202.5 L471.1 201.3 L472.8 200.2 L474.5 199.2 L476.3 198.3 L478.2 197.8 L480.1 197.4 L482.0 197.5 L483.9 197.9 L485.8 198.6 L487.7 199.5 L489.4 200.7 L491.0 201.9 L492.5 203.3 L493.8 204.7 L495.0 206.2 L496.1 207.7 L497.0 209.4 L497.8 211.1 L498.6 212.8 L499.2 214.6 L499.7 216.4 L500.2 218.3 L500.5 220.3 L500.9 222.2 L501.1 224.2 L501.3 226.3 L501.4 228.3 L501.5 230.4 L501.6 232.5 L501.7 234.6 L501.7 236.7 L501.7 238.8 L501.7 240.9 L501.7 243.0 L501.8 245.1 L501.8 247.2 L501.9 249.3 L502.0 251.3 L502.1 253.4 L502.2 255.4 L502.3 257.4 L502.4 259.5 L502.6 261.5 L502.8 263.5 L502.9 265.5 L503.1 267.5 L503.3 269.5 L503.6 271.4 L503.8 273.4 L504.0 275.4 L504.2 277.4 L504.5 279.3 L504.7 281.3 L505.0 283.2 L505.3 285.2 L505.5 287.1 L505.8 289.1 L506.1 291.1 L506.3 293.0 L506.6 295.0 L506.9 296.9 L507.2 298.9 L507.5 300.8 L507.7 302.8 L508.0 304.8 L508.3 306.7 L508.6 308.7 L508.8 310.7 L509.1 312.7 L509.3 314.7 L509.6 316.7 L509.8 318.7 L510.1 320.7 L510.3 322.8 L510.5 324.8 L510.7 326.9 L511.0 328.9 L511.1 331.0 L511.3 333.1 L511.7 335.0 L512.1 333.1 L512.6 331.0 L513.1 329.0 L513.5 327.0 L513.9 325.0 L514.3 322.9 L514.6 321.0 L514.9 319.0 L515.2 317.0 L515.5 315.0 L515.7 313.0 L516.0 311.1 L516.2 309.1 L516.4 307.2 L516.5 305.2 L516.7 303.3 L516.9 301.3 L517.1 299.4 L517.2 297.4 L517.4 295.5 L517.5 293.5 L517.7 291.6 L517.9 289.7 L518.1 287.7 L518.2 285.8 L518.4 283.8 L518.7 281.8 L518.9 279.9 L519.2 277.9 L519.4 275.9 L519.7 273.9 L520.1 271.9 L520.4 269.9 L520.8 267.9 L521.2 265.9 L521.7 263.9 L522.2 261.9 L522.7 259.8 L523.3 257.8 L523.9 255.7 L524.6 253.7 L525.3 251.7 L526.0 249.7 L526.8 247.8 L527.7 245.9 L528.6 244.0 L529.6 242.3 L530.6 240.5 L531.7 238.9 L532.9 237.3 L534.1 235.7 L535.4 234.3 L536.8 233.0 L538.2 231.8 L539.7 230.7 L541.3 229.7 L543.0 228.8 L544.7 228.0 L546.5 227.4 L548.4 227.0 L550.3 226.7 L552.3 226.6 L554.1 226.8 L555.9 227.3 L557.4 228.1 L558.8 229.3 L560.1 230.7 L561.1 232.3 L562.1 234.1 L562.8 236.0 L563.5 238.0 L564.0 240.1 L564.4 242.2 L564.7 244.3 L564.9 246.5 L565.2 248.6 L565.4 250.7 L565.6 252.8 L565.8 254.9 L566.0 256.9 L566.2 259.0 L566.4 261.0 L566.6 262.9 L566.9 264.9 L567.1 266.8 L567.3 268.8 L567.6 270.7 L567.9 272.6 L568.1 274.5 L568.4 276.4 L568.7 278.3 L569.0 280.3 L569.3 282.2 L569.6 284.1 L570.0 286.0 L570.4 288.0 L570.7 289.9 L571.1 291.9 L571.6 293.9 L572.0 295.9 L572.5 298.0 L573.0 300.0 L573.9 298.1 L574.8 296.2 L575.7 294.3 L576.5 292.4 L577.4 290.6 L578.2 288.7 L579.0 286.9 L579.8 285.1 L580.6 283.4 L581.4 281.6 L582.1 279.8 L582.9 278.1 L583.6 276.3 L584.3 274.5 L585.1 272.7 L585.8 271.0 L586.5 269.1 L587.2 267.3 L587.9 265.5 L588.6 263.6 L589.3 261.7 L590.0 259.8 L590.6 257.8 L591.3 255.8 L592.0 253.8 L592.7 251.7 L593.4 249.7 L594.1 247.6 L595.0 245.7 L595.9 243.9 L596.9 242.2 L598.0 240.7 L599.3 239.3 L600.7 238.2 L602.3 237.3 L604.0 236.5 L605.7 235.9 L607.6 235.4 L609.5 235.0 L611.4 234.7 L613.4 234.5 L615.4 234.3 L617.5 234.2 L619.5 234.0 L621.5 234.0 L623.5 233.9 L625.5 233.9 L627.6 233.9 L629.6 233.9 L631.6 233.9 L633.6 234.0 L635.7 234.0 L637.7 234.1 L639.7 234.2 L641.7 234.3 L643.8 234.4 L645.8 234.5 L647.8 234.6 L649.8 234.7 L651.9 234.8 L653.9 234.9 L655.9 235.0 L657.9 235.1 L659.9 235.2 L661.9 235.2 L663.9 235.3 L665.8 235.3 L667.8 235.3 L669.8 235.4 L671.8 235.4 L673.8 235.4 L675.7 235.4 L677.7 235.3 L679.7 235.3 L681.6 235.3 L683.6 235.3 L685.6 235.2 L687.5 235.2 L689.5 235.1 L691.5 235.1 L693.4 235.0 L695.4 235.0 L697.4 234.9 L699.4 234.9 L701.4 234.8 L703.4 234.8 L705.3 234.8 L707.3 234.7 L709.3 234.7 L711.4 234.6 L713.4 234.6 L715.4 234.6 L717.4 234.6 L719.5 234.6 L721.5 234.6 L723.6 234.6 L725.6 234.6 L727.7 234.7 L729.8 234.7 L731.9 234.8 L734.0 234.8 L736.1 235.0 L738.1 235.1 L740.2 235.3 L742.2 235.6 L744.2 235.9 L746.1 236.4 L747.9 236.9 L749.7 237.5 L751.5 238.3 L753.1 239.2 L754.6 240.2 L756.0 241.3 L757.4 242.6 L758.7 244.0 L759.8 245.5 L760.9 247.1 L762.0 248.8 L763.0 250.5 L763.9 252.3 L764.8 254.2 L765.6 256.1 L766.4 258.0 L767.1 260.0 L767.9 262.0 L768.6 263.9 L769.2 265.9 L769.9 267.8 L770.5 269.8 L771.1 271.8 L771.7 273.7 L772.3 275.7 L772.8 277.6 L773.4 279.5 L773.9 281.5 L774.4 283.4 L774.9 285.3 L775.4 287.3 L775.9 289.2 L776.3 291.1 L776.8 293.1 L777.2 295.0 L777.6 296.9 L778.0 298.9 L778.4 300.8 L778.8 302.7 L779.2 304.7 L779.6 306.6 L780.0 308.6 L780.4 310.5 L780.7 312.4 L781.1 314.4 L781.4 316.3 L781.8 318.3 L782.1 320.2 L782.5 322.2 L782.8 324.2 L783.2 326.1 L783.5 328.1 L783.9 330.1 L784.2 332.0 L784.6 334.0 L784.9 336.0 L785.2 338.0 L785.6 340.0 L785.9 341.9 L786.2 343.9 L786.5 345.9 L786.9 347.9 L787.2 349.9 L787.5 351.9 L787.8 353.9 L788.1 355.8 L788.5 357.8 L788.8 359.8 L789.1 361.8 L789.4 363.8 L789.7 365.8 L790.0 367.8 L790.3 369.8 L790.6 371.8 L790.9 373.8 L791.2 375.8 L791.5 377.8 L791.8 379.8 L792.1 381.8 L792.4 383.7 L792.7 385.7 L793.0 387.7 L793.2 389.7 L793.5 391.7 L793.8 393.7 L794.1 395.7 L794.4 397.6 L794.7 399.6 L794.9 401.6 L795.2 403.6 L795.5 405.6 L795.8 407.5 L796.0 409.5 L796.3 411.5 L796.6 413.4 L796.8 415.4 L797.1 417.3 L797.4 419.3 L797.6 421.2 L797.9 423.2 L798.2 425.1 L798.4 427.1 L798.7 429.0 L799.0 430.9 L799.4 432.9 L799.7 434.8 L800.1 436.7 L800.6 438.7 L801.1 440.6 L801.6 442.6 L802.2 444.5 L802.9 446.4 L803.7 448.4 L804.6 450.3 L805.5 452.3 L806.6 454.2 L807.7 456.2 L809.0 458.1 L810.3 459.9 L811.7 461.6 L813.1 463.0 L814.6 464.0 L816.0 464.6 L817.5 464.8 L818.9 464.4 L820.4 463.7 L821.8 462.5 L823.1 461.1 L824.5 459.4 L825.8 457.5 L827.0 455.5 L828.2 453.3 L829.4 451.2 L830.5 449.1 L831.6 447.0 L832.7 445.0 L833.7 443.1 L834.6 441.2 L835.6 439.3 L836.5 437.5 L837.3 435.7 L838.2 433.9 L839.0 432.1 L839.8 430.4 L840.6 428.6 L841.3 426.9 L842.1 425.1 L842.9 423.4 L843.6 421.7 L844.4 419.9 L845.1 418.1 L845.9 416.4 L846.6 414.6 L847.3 412.8 L848.1 411.0 L848.8 409.2 L849.6 407.3 L850.3 405.5 L851.0 403.7 L851.8 401.8 L852.5 400.0 L853.3 398.2 L854.0 396.3 L854.8 394.4 L855.5 392.6 L856.3 390.7 L857.0 388.8 L857.8 387.0 L858.5 385.1 L859.3 383.2 L860.0 381.4 L860.8 379.5 L861.5 377.6 L862.3 375.7 L863.1 373.8 L863.9 372.0 L864.6 370.1 L865.4 368.2 L866.2 366.4 L867.0 364.5 L867.8 362.6 L868.6 360.8 L869.4 358.9 L870.2 357.0 L871.1 355.2 L871.9 353.4 L872.7 351.5 L873.6 349.7 L874.4 347.9 L875.3 346.0 L876.1 344.2 L877.0 342.4 L877.9 340.6 L878.7 338.8 L879.6 337.0 L880.5 335.2 L881.4 333.4 L882.2 331.7 L883.1 329.9 L884.0 328.1 L884.8 326.3 L885.7 324.5 L886.6 322.7 L887.4 320.9 L888.3 319.1 L889.1 317.3 L889.9 315.5 L890.7 313.7 L891.6 311.9 L892.4 310.1 L893.1 308.3 L893.9 306.5 L894.7 304.6 L895.4 302.8 L896.2 301.0 L896.9 299.1 L897.6 297.2 L898.3 295.4 L898.9 293.5 L899.6 291.6 L900.2 289.7 L900.8 287.8 L901.4 285.9 L902.0 284.0 L902.5 282.0 L903.1 280.1 L903.6 278.1 L904.1 276.2 L904.6 274.2 L905.1 272.2 L905.6 270.3 L906.0 268.3 L906.5 266.3 L906.9 264.3 L907.4 262.3 L907.8 260.4 L908.2 258.4 L908.6 256.4 L909.0 254.4 L909.4 252.5 L909.9 250.5 L910.3 248.5 L910.7 246.5 L911.1 244.6 L911.5 242.6 L911.9 240.7 L912.3 238.8 L912.8 236.8 L913.2 234.9 L913.6 233.0 L914.1 231.1 L914.5 229.2 L915.0 227.3 L915.5 225.5 L915.9 223.6 L916.4 221.7 L916.9 219.8 L917.4 217.9 L917.9 215.9 L918.4 214.0 L918.9 211.9 L919.5 209.9 L920.0 207.8 L920.5 205.6 L921.0 203.4 L921.6 201.2 L922.3 199.2 L923.1 197.3 L924.1 195.6 L925.3 194.3 L926.7 193.4 L928.4 192.9 L930.3 192.8 L932.3 193.1 L934.2 193.7 L936.1 194.6 L937.8 195.7 L939.3 197.0 L940.6 198.5 L941.8 200.1 L942.9 201.8 L943.8 203.7 L944.7 205.6 L945.6 207.5 L946.5 209.4 L947.4 211.2 L948.4 213.1 L949.4 214.9 L950.4 216.7 L951.4 218.4 L952.5 220.2 L953.6 221.9 L954.8 223.5 L955.9 225.2 L957.1 226.8 L958.3 228.4 L959.6 230.0 L960.8 231.5 L962.1 233.1 L963.4 234.6 L964.7 236.1 L966.0 237.6 L967.3 239.1 L968.6 240.6 L970.0 242.0 L971.3 243.5 L972.7 244.9 L974.1 246.4 L975.5 247.8 L976.8 249.2 L978.2 250.7 L979.6 252.1 L981.0 253.5 L982.3 255.0 L983.7 256.4 L985.1 257.9 L986.4 259.3 L987.8 260.8 L989.1 262.3 L990.4 263.8 L991.7 265.3 L993.0 266.8 L994.3 268.3 L995.6 269.8 L996.9 271.4 L998.1 272.9 L999.4 274.5 L1000.6 276.1 L1001.8 277.7 L1003.0 279.3 L1004.2 280.9 L1005.4 282.5 L1006.6 284.1 L1007.8 285.7 L1008.9 287.3 L1010.1 289.0 L1011.2 290.6 L1012.4 292.3 L1013.5 294.0 L1014.6 295.6 L1015.7 297.3 L1016.8 299.0 L1017.9 300.6 L1019.0 302.3 L1020.1 304.0 L1021.2 305.7 L1022.2 307.4 L1023.3 309.1 L1024.3 310.8 L1025.4 312.5 L1026.4 314.2 L1027.4 315.9 L1028.5 317.7 L1029.5 319.4 L1030.5 321.1 L1031.5 322.8 L1032.5 324.6 L1033.5 326.3 L1034.4 328.1 L1035.4 329.8 L1036.4 331.6 L1037.3 333.3 L1038.2 335.1 L1039.1 336.8 L1040.1 338.6 L1041.0 340.4 L1041.8 342.2 L1042.7 344.0 L1043.6 345.8 L1044.4 347.6 L1045.3 349.4 L1046.1 351.2 L1046.9 353.1 L1047.7 354.9 L1048.5 356.7 L1049.2 358.6 L1050.0 360.5 L1050.7 362.3 L1051.5 364.2 L1052.2 366.1 L1052.9 368.0 L1053.6 369.9 L1054.2 371.8 L1054.9 373.7 L1055.6 375.6 L1056.2 377.5 L1056.9 379.4 L1057.5 381.3 L1058.1 383.2 L1058.8 385.2 L1059.4 387.1 L1060.0 389.0 L1060.7 390.9 L1061.3 392.8 L1061.9 394.7 L1062.5 396.6 L1063.2 398.5 L1063.8 400.4 L1064.4 402.3 L1065.1 404.2 L1065.7 406.0 L1066.4 407.9 L1067.1 409.7 L1067.7 411.6 L1068.4 413.4 L1069.1 415.2 L1069.8 417.0 L1070.5 418.8 L1071.3 420.6 L1072.0 422.4 L1072.8 424.2 L1073.6 426.0 L1074.4 427.8 L1075.2 429.6 L1076.0 431.5 L1076.9 433.3 L1077.8 435.2 L1078.7 437.2 L1079.6 439.2 L1080.6 441.2 L1081.6 443.2 L1082.7 445.2 L1083.8 447.2 L1085.0 448.9 L1086.3 450.5 L1087.7 451.8 L1089.3 452.8 L1091.0 453.5 L1092.8 453.7 L1094.7 453.6 L1096.6 453.2 L1098.4 452.6 L1100.1 451.7 L1101.6 450.7 L1102.9 449.4 L1104.1 448.0 L1105.2 446.5 L1106.2 444.9 L1107.0 443.1 L1107.8 441.3 L1108.5 439.4 L1109.2 437.5 L1109.8 435.5 L1110.4 433.6 L1111.0 431.6 L1111.6 429.6 L1112.3 427.6 L1112.9 425.7 L1113.5 423.7 L1114.1 421.7 L1114.7 419.8 L1115.3 417.8 L1115.9 415.9 L1116.6 413.9 L1117.2 412.0 L1117.8 410.0 L1118.4 408.1 L1119.0 406.1 L1119.6 404.2 L1120.3 402.2 L1120.9 400.3 L1121.5 398.4 L1122.1 396.4 L1122.8 394.5 L1123.4 392.6 L1124.0 390.7 L1124.7 388.7 L1125.3 386.8 L1125.9 384.9 L1126.6 383.0 L1127.2 381.1 L1127.9 379.2 L1128.6 377.3 L1129.2 375.4 L1129.9 373.5 L1130.6 371.6 L1131.2 369.7 L1131.9 367.8 L1132.6 365.9 L1133.3 364.1 L1134.0 362.2 L1134.7 360.3 L1135.4 358.4 L1136.1 356.6 L1136.8 354.7 L1137.6 352.9 L1138.3 351.0 L1139.0 349.1 L1139.8 347.3 L1140.5 345.5 L1141.3 343.6 L1142.1 341.8 L1142.8 339.9 L1143.6 338.1 L1144.4 336.3 L1145.2 334.5 L1146.0 332.6 L1146.8 330.8 L1147.6 329.0 L1148.5 327.2 L1149.3 325.4 L1150.2 323.6 L1151.0 321.8 L1151.9 320.0 L1152.8 318.3 L1153.7 316.5 L1154.6 314.7 L1155.5 312.9 L1156.4 311.2 L1157.3 309.4 L1158.3 307.6 L1159.2 305.9 L1160.2 304.1 L1161.2 302.4 L1162.1 300.7 L1163.1 298.9 L1164.1 297.2 L1165.1 295.5 L1166.1 293.7 L1167.2 292.0 L1168.2 290.3 L1169.2 288.6 L1170.3 286.9 L1171.4 285.2 L1172.4 283.5 L1173.5 281.9 L1174.6 280.2 L1175.7 278.5 L1176.8 276.8 L1177.9 275.2 L1179.1 273.5 L1180.2 271.9 L1181.4 270.2 L1182.5 268.6 L1183.7 267.0 L1184.9 265.4 L1186.0 263.7 L1187.2 262.1 L1188.4 260.5 L1189.6 258.9 L1190.9 257.3 L1192.1 255.8 L1193.3 254.2 L1194.6 252.6 L1195.8 251.1 L1197.1 249.5 L1198.4 248.0 L1199.6 246.4 L1200.9 244.9 L1202.2 243.3 L1203.5 241.8 L1204.8 240.3 L1206.2 238.8 L1207.5 237.3 L1208.8 235.8 L1210.2 234.3 L1211.5 232.9 L1212.9 231.4 L1214.3 229.9 L1215.7 228.5 L1217.0 227.0 L1218.4 225.6 L1219.8 224.2 L1221.3 222.7 L1222.7 221.3 L1224.1 219.9 L1225.6 218.5 L1227.0 217.1 L1228.5 215.8 L1229.9 214.4 L1231.4 213.0 L1232.9 211.7 L1234.3 210.3 L1235.8 209.0 L1237.3 207.7 L1238.8 206.4 L1240.4 205.0 L1241.9 203.7 L1243.4 202.4 L1245.0 201.2 L1246.5 199.9 L1248.1 198.6 L1249.6 197.4 L1251.2 196.1 L1252.8 194.9 L1254.4 193.7 L1255.9 192.5 L1257.5 191.2 L1259.2 190.0 L1260.8 188.9 L1262.4 187.7 L1264.0 186.5 L1265.7 185.4 L1267.3 184.2 L1268.9 183.1 L1270.6 182.0 L1272.3 180.8 L1273.9 179.8 L1275.6 178.7 L1277.3 177.6 L1279.0 176.6 L1280.7 175.6 L1282.5 174.6 L1284.2 173.7 L1286.0 172.7 L1287.7 171.8 L1289.5 171.0 L1291.3 170.2 L1293.1 169.4 L1294.9 168.6 L1296.8 167.9 L1298.6 167.3 L1300.5 166.7 L1302.4 166.1 L1304.3 165.6 L1306.2 165.1 L1308.1 164.6 L1310.1 164.2 L1312.1 163.8 L1314.0 163.5 L1316.0 163.2 L1318.0 162.9 L1320.0 162.7 L1322.0 162.4 L1324.0 162.2 L1326.0 162.0 L1328.1 161.9 L1330.1 161.7 L1332.1 161.6 L1334.2 161.4 L1336.2 161.3 L1338.3 161.2 L1340.3 161.1 L1342.4 161.0 L1344.4 160.8 L1346.5 160.7 L1348.5 160.6 L1350.5 160.5 L1352.6 160.4 L1354.6 160.2 L1356.6 160.1 L1358.6 159.9 L1360.6 159.7 L1362.6 159.5 L1364.6 159.3 L1366.6 159.0 L1368.6 158.8 L1370.5 158.4 L1372.5 158.1 L1374.4 157.7 L1376.3 157.3 L1378.2 156.9 L1380.1 156.4 L1382.0 156.0" stroke="#ff0000" stroke-width="6.4" stroke-dasharray="2.3 5.75"/>
<path d="M107.5 76.0 L119.9 77.5 L132.2 79.5 L144.4 82.0 L156.7 83.8 L168.9 85.5 L181.1 87.0 L193.4 88.8 L205.6 90.0 L217.9 92.0 L230.1 95.0 L242.3 98.8 L254.6 108.8 L266.8 124.2 L279.1 148.8 L291.3 184.2 L303.5 220.5 L315.8 248.0 L328.0 258.0 L340.3 256.0 L352.5 247.7 L364.7 240.7 L377.0 236.0 L389.2 232.0 L401.5 229.0 L413.7 227.5 L425.9 226.7 L438.2 226.7 L450.4 225.8 L462.7 227.5 L474.9 300.0 L487.1 381.0 L499.4 281.7 L511.6 264.0 L523.9 258.3 L536.1 260.0 L548.3 333.0 L560.6 338.5 L572.8 292.5 L585.1 284.5 L597.3 281.0 L609.5 285.0 L621.8 292.0 L634.0 298.0 L646.3 306.7 L658.5 316.7 L670.7 328.0 L683.0 343.0 L695.2 365.8 L707.5 395.0 L719.7 442.0 L731.9 522.0 L744.2 591.7 L756.4 536.7 L768.7 508.0 L780.9 509.0 L793.1 523.0 L805.4 538.0 L817.6 536.7 L829.9 511.7 L842.1 473.0 L854.3 434.5 L866.6 393.0 L878.8 352.7 L891.1 323.0 L903.3 305.0 L915.5 294.0 L927.8 290.7 L940.0 293.0 L952.3 303.0 L964.5 316.0 L976.7 335.5 L989.0 358.0 L1001.2 385.5 L1013.5 419.0 L1025.7 460.0 L1037.9 506.7 L1050.2 543.0 L1062.4 535.0 L1074.7 491.7 L1086.9 447.0 L1099.1 407.7 L1111.4 375.5 L1123.6 348.0 L1135.9 326.0 L1148.1 303.5 L1160.3 286.7 L1172.6 271.0 L1184.8 256.0 L1197.1 244.0 L1209.3 232.7 L1221.5 222.7 L1233.8 213.8 L1246.0 206.0 L1258.3 203.8 L1270.5 202.2 L1306.7 191.7 L1340.0 181.7 L1382.0 171.0" stroke="#001a66" stroke-width="2.7"/>
<g stroke="#001a66" stroke-width="2.7">
<circle cx="119.9" cy="77.5" r="5.4"/>
<circle cx="132.2" cy="79.5" r="5.4"/>
<circle cx="144.4" cy="82.0" r="5.4"/>
<circle cx="156.7" cy="83.8" r="5.4"/>
<circle cx="168.9" cy="85.5" r="5.4"/>
<circle cx="181.1" cy="87.0" r="5.4"/>
<circle cx="193.4" cy="88.8" r="5.4"/>
<circle cx="205.6" cy="90.0" r="5.4"/>
<circle cx="217.9" cy="92.0" r="5.4"/>
<circle cx="230.1" cy="95.0" r="5.4"/>
<circle cx="242.3" cy="98.8" r="5.4"/>
<circle cx="254.6" cy="108.8" r="5.4"/>
<circle cx="266.8" cy="124.2" r="5.4"/>
<circle cx="279.1" cy="148.8" r="5.4"/>
<circle cx="291.3" cy="184.2" r="5.4"/>
<circle cx="303.5" cy="220.5" r="5.4"/>
<circle cx="315.8" cy="248.0" r="5.4"/>
<circle cx="328.0" cy="258.0" r="5.4"/>
<circle cx="340.3" cy="256.0" r="5.4"/>
<circle cx="352.5" cy="247.7" r="5.4"/>
<circle cx="364.7" cy="240.7" r="5.4"/>
<circle cx="377.0" cy="236.0" r="5.4"/>
<circle cx="389.2" cy="232.0" r="5.4"/>
<circle cx="401.5" cy="229.0" r="5.4"/>
<circle cx="425.9" cy="226.7" r="5.4"/>
<circle cx="438.2" cy="226.7" r="5.4"/>
<circle cx="450.4" cy="225.8" r="5.4"/>
<circle cx="462.7" cy="227.5" r="5.4"/>
<circle cx="474.9" cy="300.0" r="5.4"/>
<circle cx="487.1" cy="381.0" r="5.4"/>
<circle cx="499.4" cy="281.7" r="5.4"/>
<circle cx="511.6" cy="264.0" r="5.4"/>
<circle cx="523.9" cy="258.3" r="5.4"/>
<circle cx="536.1" cy="260.0" r="5.4"/>
<circle cx="548.3" cy="333.0" r="5.4"/>
<circle cx="560.6" cy="338.5" r="5.4"/>
<circle cx="572.8" cy="292.5" r="5.4"/>
<circle cx="585.1" cy="284.5" r="5.4"/>
<circle cx="597.3" cy="281.0" r="5.4"/>
<circle cx="609.5" cy="285.0" r="5.4"/>
<circle cx="621.8" cy="292.0" r="5.4"/>
<circle cx="634.0" cy="298.0" r="5.4"/>
<circle cx="646.3" cy="306.7" r="5.4"/>
<circle cx="658.5" cy="316.7" r="5.4"/>
<circle cx="670.7" cy="328.0" r="5.4"/>
<circle cx="683.0" cy="343.0" r="5.4"/>
<circle cx="695.2" cy="365.8" r="5.4"/>
<circle cx="707.5" cy="395.0" r="5.4"/>
<circle cx="719.7" cy="442.0" r="5.4"/>
<circle cx="731.9" cy="522.0" r="5.4"/>
<circle cx="744.2" cy="591.7" r="5.4"/>
<circle cx="756.4" cy="536.7" r="5.4"/>
<circle cx="768.7" cy="508.0" r="5.4"/>
<circle cx="780.9" cy="509.0" r="5.4"/>
<circle cx="793.1" cy="523.0" r="5.4"/>
<circle cx="805.4" cy="538.0" r="5.4"/>
<circle cx="817.6" cy="536.7" r="5.4"/>
<circle cx="829.9" cy="511.7" r="5.4"/>
<circle cx="842.1" cy="473.0" r="5.4"/>
<circle cx="854.3" cy="434.5" r="5.4"/>
<circle cx="866.6" cy="393.0" r="5.4"/>
<circle cx="878.8" cy="352.7" r="5.4"/>
<circle cx="891.1" cy="323.0" r="5.4"/>
<circle cx="903.3" cy="305.0" r="5.4"/>
<circle cx="915.5" cy="294.0" r="5.4"/>
<circle cx="927.8" cy="290.7" r="5.4"/>
<circle cx="940.0" cy="293.0" r="5.4"/>
<circle cx="952.3" cy="303.0" r="5.4"/>
<circle cx="964.5" cy="316.0" r="5.4"/>
<circle cx="976.7" cy="335.5" r="5.4"/>
<circle cx="989.0" cy="358.0" r="5.4"/>
<circle cx="1001.2" cy="385.5" r="5.4"/>
<circle cx="1013.5" cy="419.0" r="5.4"/>
<circle cx="1025.7" cy="460.0" r="5.4"/>
<circle cx="1037.9" cy="506.7" r="5.4"/>
<circle cx="1050.2" cy="543.0" r="5.4"/>
<circle cx="1062.4" cy="535.0" r="5.4"/>
<circle cx="1074.7" cy="491.7" r="5.4"/>
<circle cx="1086.9" cy="447.0" r="5.4"/>
<circle cx="1099.1" cy="407.7" r="5.4"/>
<circle cx="1111.4" cy="375.5" r="5.4"/>
<circle cx="1123.6" cy="348.0" r="5.4"/>
<circle cx="1135.9" cy="326.0" r="5.4"/>
<circle cx="1148.1" cy="303.5" r="5.4"/>
<circle cx="1160.3" cy="286.7" r="5.4"/>
<circle cx="1172.6" cy="271.0" r="5.4"/>
<circle cx="1184.8" cy="256.0" r="5.4"/>
<circle cx="1197.1" cy="244.0" r="5.4"/>
<circle cx="1209.3" cy="232.7" r="5.4"/>
<circle cx="1221.5" cy="222.7" r="5.4"/>
<circle cx="1233.8" cy="213.8" r="5.4"/>
<circle cx="1246.0" cy="206.0" r="5.4"/>
<circle cx="1258.3" cy="203.8" r="5.4"/>
<circle cx="1270.5" cy="202.2" r="5.4"/>
</g>
</g>
<g stroke="#000" stroke-width="1.8" fill="none">
<rect x="107.2" y="16.9" width="1274.4" height="793.4"/>
<path d="M203.8 16.9 v12 M203.8 810.3 v-12"/>
<path d="M302.0 16.9 v12 M302.0 810.3 v-12"/>
<path d="M400.1 16.9 v12 M400.1 810.3 v-12"/>
<path d="M498.2 16.9 v12 M498.2 810.3 v-12"/>
<path d="M596.4 16.9 v12 M596.4 810.3 v-12"/>
<path d="M694.6 16.9 v12 M694.6 810.3 v-12"/>
<path d="M792.7 16.9 v12 M792.7 810.3 v-12"/>
<path d="M890.9 16.9 v12 M890.9 810.3 v-12"/>
<path d="M989.0 16.9 v12 M989.0 810.3 v-12"/>
<path d="M1087.2 16.9 v12 M1087.2 810.3 v-12"/>
<path d="M1185.3 16.9 v12 M1185.3 810.3 v-12"/>
<path d="M1283.5 16.9 v12 M1283.5 810.3 v-12"/>
<path d="M107.2 103.4 h12 M1381.6 103.4 h-12"/>
<path d="M107.2 191.5 h12 M1381.6 191.5 h-12"/>
<path d="M107.2 280.8 h12 M1381.6 280.8 h-12"/>
<path d="M107.2 369.3 h12 M1381.6 369.3 h-12"/>
<path d="M107.2 456.1 h12 M1381.6 456.1 h-12"/>
<path d="M107.2 544.5 h12 M1381.6 544.5 h-12"/>
<path d="M107.2 633.2 h12 M1381.6 633.2 h-12"/>
<path d="M107.2 721.9 h12 M1381.6 721.9 h-12"/>
</g>
<g font-size="37.7" text-anchor="middle">
<text x="106.2" y="848.4">2</text>
<text x="202.9" y="848.4">3</text>
<text x="301.1" y="848.4">4</text>
<text x="399.2" y="848.4">5</text>
<text x="497.4" y="848.4">6</text>
<text x="595.5" y="848.4">7</text>
<text x="693.7" y="848.4">8</text>
<text x="791.8" y="848.4">9</text>
<text x="891.2" y="848.4">10</text>
<text x="989.4" y="848.4">11</text>
<text x="1087.6" y="848.4">12</text>
<text x="1184.6" y="848.4">13</text>
<text x="1282.8" y="848.4">14</text>
<text x="1380.9" y="848.4">15</text>
</g>
<g font-size="37.7" text-anchor="end">
<text x="100.4" y="28.7">0</text>
<text x="100.4" y="115.6">5</text>
<text x="100.4" y="203.7">10</text>
<text x="100.4" y="293.0">15</text>
<text x="100.4" y="381.5">20</text>
<text x="100.4" y="468.3">25</text>
<text x="100.4" y="556.7">30</text>
<text x="100.4" y="645.4">35</text>
<text x="100.4" y="734.1">40</text>
<text x="100.4" y="822.5">45</text>
</g>
<text x="607" y="887.5" font-size="37.2" textLength="270" lengthAdjust="spacingAndGlyphs">Frequency (GHz)</text>
<text transform="translate(30.6 548.8) rotate(-90)" font-size="38.6" textLength="269.5" lengthAdjust="spacingAndGlyphs">Return Loss (dB)</text>
<g fill="none">
<path d="M1005.1 562.5 H1065" stroke="#000" stroke-width="5" stroke-dasharray="16.3 6.3"/>
<path d="M998.9 608.4 H1064.9" stroke="#808080" stroke-width="6.1"/>
<path d="M998.7 657.6 H1065" stroke="#0000ff" stroke-width="5.1" stroke-dasharray="16.3 6.1 2.1 5.9"/>
<path d="M998.4 705.1 H1065.3" stroke="#ff0000" stroke-width="6.6" stroke-dasharray="2.5 5.54"/>
<path d="M998.6 751.8 H1065" stroke="#001a66" stroke-width="2.9"/>
<circle cx="1031.9" cy="752.4" r="5.5" stroke="#001a66" stroke-width="2.8"/>
</g>
<rect x="1080.8" y="542.5" width="5.4" height="44.8" rx="1"/>
<rect x="1140.4" y="543.9" width="5.4" height="43.5" rx="1"/>
<text transform="translate(1095.1 575.0) scale(0.86 1)" font-size="40">S</text>
<text x="1111.3" y="586.0" font-size="26.6">11</text>
<text transform="translate(1162.2 575.0) scale(0.938 1)" font-size="40">for Fig.</text>
<text x="1283.1" y="575.0" font-size="40">2(a)</text>
<rect x="1080.8" y="592.5" width="5.4" height="45.1" rx="1"/>
<rect x="1140.4" y="593.9" width="5.4" height="43.8" rx="1"/>
<text transform="translate(1095.1 623.2) scale(0.86 1)" font-size="40">S</text>
<text x="1111.3" y="634.2" font-size="26.6">11</text>
<text transform="translate(1162.2 623.2) scale(0.938 1)" font-size="40">for Fig.</text>
<text x="1279.8" y="623.2" font-size="40">2(b)</text>
<rect x="1080.8" y="642.6" width="5.4" height="43.2" rx="1"/>
<rect x="1140.4" y="644.0" width="5.4" height="41.9" rx="1"/>
<text transform="translate(1095.1 671.4) scale(0.86 1)" font-size="40">S</text>
<text x="1111.3" y="682.4" font-size="26.6">11</text>
<text transform="translate(1162.2 671.4) scale(0.938 1)" font-size="40">for Fig.</text>
<text x="1279.8" y="671.4" font-size="40">2(c)</text>
<rect x="1080.8" y="690.6" width="5.4" height="44.9" rx="1"/>
<rect x="1140.4" y="692.0" width="5.4" height="43.6" rx="1"/>
<text transform="translate(1095.1 719.7) scale(0.86 1)" font-size="40">S</text>
<text x="1111.3" y="730.7" font-size="26.6">11</text>
<text transform="translate(1162.2 719.7) scale(0.938 1)" font-size="40">for Fig.</text>
<text x="1279.8" y="719.7" font-size="40">2(d)</text>
<rect x="1080.8" y="741.0" width="5.4" height="44.4" rx="1"/>
<rect x="1140.4" y="742.4" width="5.4" height="43.1" rx="1"/>
<text transform="translate(1095.1 767.9) scale(0.86 1)" font-size="40">S</text>
<text x="1111.3" y="778.9" font-size="26.6">11</text>
<text transform="translate(1162.2 767.9) scale(0.938 1)" font-size="40">for Fig.</text>
<text x="1279.8" y="767.9" font-size="40">2(e)</text>
</svg></body></html>
